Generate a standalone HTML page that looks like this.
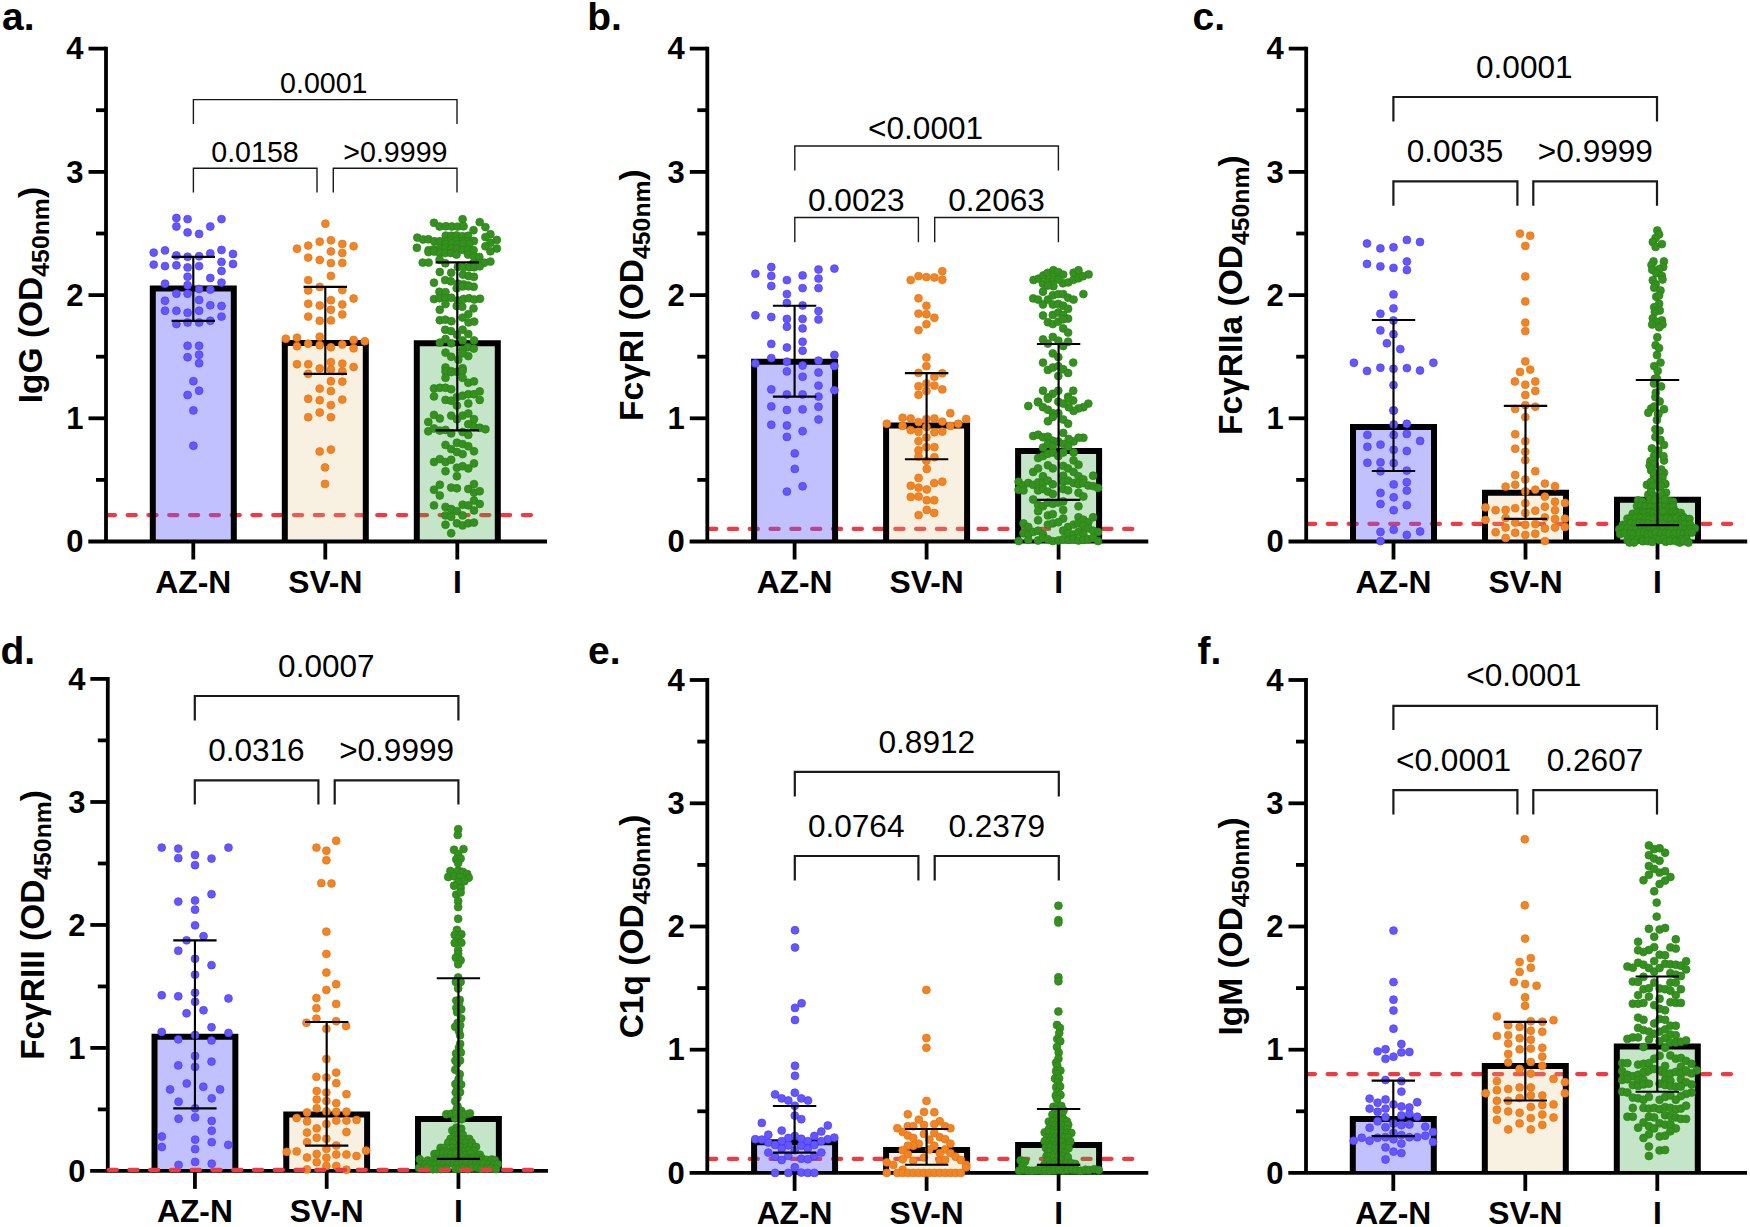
<!DOCTYPE html>
<html><head><meta charset="utf-8"><title>Figure</title>
<style>
html,body{margin:0;padding:0;background:#fff;}
svg{display:block;}
text{font-family:"Liberation Sans",Arial,Helvetica,sans-serif;fill:#000;}
.tk{font-size:31px;font-weight:bold;}
.xl{font-size:31.8px;font-weight:bold;}
.yt{font-size:33.5px;font-weight:bold;}
.sb{font-size:24.8px;}
.pl{font-size:39px;font-weight:bold;}
.pv{fill:#000;}
</style></head><body>
<svg width="1750" height="1227" viewBox="0 0 1750 1227">
<rect width="1750" height="1227" fill="#fff"/>
<g transform="translate(0,0)">
<path d="M106.8,515.05H543.2" stroke="#F03A42" stroke-width="4.2" stroke-dasharray="8.2 12.6" stroke-linecap="round" fill="none"/>
<rect x="152.8" y="288.5" width="81" height="253.0" fill="#615EFF" fill-opacity="0.385" stroke="none"/>
<path d="M152.8,541.5V288.5H233.8V541.5" fill="none" stroke="#000" stroke-width="6.0" stroke-linejoin="miter"/>
<rect x="284.8" y="343.0" width="81" height="198.5" fill="#E1C382" fill-opacity="0.24" stroke="none"/>
<path d="M284.8,541.5V343.0H365.8V541.5" fill="none" stroke="#000" stroke-width="6.0" stroke-linejoin="miter"/>
<rect x="416.8" y="343.3" width="81" height="198.2" fill="#3CAA46" fill-opacity="0.3" stroke="none"/>
<path d="M416.8,541.5V343.3H497.8V541.5" fill="none" stroke="#000" stroke-width="6.0" stroke-linejoin="miter"/>
<path d="M106.0,46.7V541.5" stroke="#000" stroke-width="3.8" fill="none"/>
<path d="M88.3,541.5H547" stroke="#000" stroke-width="3.8" fill="none"/>
<text x="83.5" y="552.3" text-anchor="end" class="tk">0</text>
<path d="M96,479.9H106.0" stroke="#000" stroke-width="3.8"/>
<path d="M88.5,418.3H106.0" stroke="#000" stroke-width="3.8"/>
<text x="83.5" y="429.1" text-anchor="end" class="tk">1</text>
<path d="M96,356.7H106.0" stroke="#000" stroke-width="3.8"/>
<path d="M88.5,295.1H106.0" stroke="#000" stroke-width="3.8"/>
<text x="83.5" y="305.9" text-anchor="end" class="tk">2</text>
<path d="M96,233.5H106.0" stroke="#000" stroke-width="3.8"/>
<path d="M88.5,171.9H106.0" stroke="#000" stroke-width="3.8"/>
<text x="83.5" y="182.7" text-anchor="end" class="tk">3</text>
<path d="M96,110.2H106.0" stroke="#000" stroke-width="3.8"/>
<path d="M88.5,48.6H106.0" stroke="#000" stroke-width="3.8"/>
<text x="83.5" y="59.4" text-anchor="end" class="tk">4</text>
<path d="M193.3,541.5V559.5" stroke="#000" stroke-width="3.8"/>
<text x="193.3" y="592.5" text-anchor="middle" class="xl">AZ-N</text>
<path d="M325.3,541.5V559.5" stroke="#000" stroke-width="3.8"/>
<text x="325.3" y="592.5" text-anchor="middle" class="xl">SV-N</text>
<path d="M457.3,541.5V559.5" stroke="#000" stroke-width="3.8"/>
<text x="457.3" y="592.5" text-anchor="middle" class="xl">I</text>
<g fill="#6457FF" stroke="#4B3AFF" stroke-width="0.7"><circle cx="176.4" cy="218.0" r="3.95"/><circle cx="187.6" cy="219.1" r="3.95"/><circle cx="221.5" cy="219.1" r="3.95"/><circle cx="176.4" cy="226.5" r="3.95"/><circle cx="210.3" cy="226.5" r="3.95"/><circle cx="187.6" cy="232.4" r="3.95"/><circle cx="199.1" cy="233.9" r="3.95"/><circle cx="153.7" cy="252.6" r="3.95"/><circle cx="165.0" cy="250.4" r="3.95"/><circle cx="176.4" cy="255.5" r="3.95"/><circle cx="187.6" cy="256.8" r="3.95"/><circle cx="199.1" cy="256.2" r="3.95"/><circle cx="210.3" cy="253.4" r="3.95"/><circle cx="221.5" cy="250.0" r="3.95"/><circle cx="233.0" cy="254.0" r="3.95"/><circle cx="153.7" cy="264.6" r="3.95"/><circle cx="165.0" cy="266.1" r="3.95"/><circle cx="176.4" cy="265.3" r="3.95"/><circle cx="187.6" cy="267.4" r="3.95"/><circle cx="199.1" cy="266.1" r="3.95"/><circle cx="221.5" cy="261.9" r="3.95"/><circle cx="233.0" cy="264.0" r="3.95"/><circle cx="221.5" cy="271.0" r="3.95"/><circle cx="187.6" cy="276.7" r="3.95"/><circle cx="210.3" cy="278.0" r="3.95"/><circle cx="165.0" cy="283.7" r="3.95"/><circle cx="187.6" cy="285.2" r="3.95"/><circle cx="221.5" cy="282.6" r="3.95"/><circle cx="199.1" cy="289.0" r="3.95"/><circle cx="210.3" cy="289.6" r="3.95"/><circle cx="176.4" cy="293.7" r="3.95"/><circle cx="187.6" cy="293.7" r="3.95"/><circle cx="165.0" cy="300.7" r="3.95"/><circle cx="199.1" cy="300.0" r="3.95"/><circle cx="210.3" cy="305.3" r="3.95"/><circle cx="221.5" cy="306.0" r="3.95"/><circle cx="165.0" cy="310.8" r="3.95"/><circle cx="176.4" cy="310.8" r="3.95"/><circle cx="187.6" cy="312.7" r="3.95"/><circle cx="199.1" cy="310.8" r="3.95"/><circle cx="221.5" cy="316.6" r="3.95"/><circle cx="176.4" cy="324.0" r="3.95"/><circle cx="187.6" cy="322.5" r="3.95"/><circle cx="199.1" cy="322.5" r="3.95"/><circle cx="210.3" cy="320.8" r="3.95"/><circle cx="187.6" cy="345.8" r="3.95"/><circle cx="199.1" cy="345.8" r="3.95"/><circle cx="199.1" cy="354.7" r="3.95"/><circle cx="187.6" cy="357.2" r="3.95"/><circle cx="199.1" cy="363.2" r="3.95"/><circle cx="193.4" cy="381.2" r="3.95"/><circle cx="199.1" cy="390.7" r="3.95"/><circle cx="187.6" cy="395.0" r="3.95"/><circle cx="193.4" cy="410.4" r="3.95"/><circle cx="193.4" cy="445.8" r="3.95"/></g>
<g fill="#F18425" stroke="#EA720E" stroke-width="0.7"><circle cx="325.4" cy="223.7" r="3.95"/><circle cx="319.7" cy="241.7" r="3.95"/><circle cx="330.9" cy="240.3" r="3.95"/><circle cx="308.2" cy="245.6" r="3.95"/><circle cx="342.3" cy="243.9" r="3.95"/><circle cx="297.0" cy="248.7" r="3.95"/><circle cx="353.6" cy="246.2" r="3.95"/><circle cx="330.9" cy="251.5" r="3.95"/><circle cx="342.3" cy="253.0" r="3.95"/><circle cx="308.2" cy="257.6" r="3.95"/><circle cx="319.7" cy="260.0" r="3.95"/><circle cx="330.9" cy="263.1" r="3.95"/><circle cx="342.3" cy="262.9" r="3.95"/><circle cx="330.9" cy="275.9" r="3.95"/><circle cx="308.2" cy="280.1" r="3.95"/><circle cx="319.7" cy="286.9" r="3.95"/><circle cx="308.2" cy="290.5" r="3.95"/><circle cx="342.3" cy="290.1" r="3.95"/><circle cx="353.6" cy="298.5" r="3.95"/><circle cx="330.9" cy="300.2" r="3.95"/><circle cx="308.2" cy="303.8" r="3.95"/><circle cx="319.7" cy="305.5" r="3.95"/><circle cx="342.3" cy="304.5" r="3.95"/><circle cx="330.9" cy="309.8" r="3.95"/><circle cx="342.3" cy="314.4" r="3.95"/><circle cx="308.2" cy="316.6" r="3.95"/><circle cx="319.7" cy="320.8" r="3.95"/><circle cx="330.9" cy="320.4" r="3.95"/><circle cx="319.7" cy="336.7" r="3.95"/><circle cx="285.8" cy="338.8" r="3.95"/><circle cx="297.0" cy="337.7" r="3.95"/><circle cx="353.6" cy="339.9" r="3.95"/><circle cx="364.8" cy="341.3" r="3.95"/><circle cx="297.0" cy="346.2" r="3.95"/><circle cx="308.2" cy="343.7" r="3.95"/><circle cx="319.7" cy="345.2" r="3.95"/><circle cx="330.9" cy="347.3" r="3.95"/><circle cx="342.3" cy="344.5" r="3.95"/><circle cx="353.6" cy="348.3" r="3.95"/><circle cx="330.9" cy="362.1" r="3.95"/><circle cx="297.0" cy="364.2" r="3.95"/><circle cx="308.2" cy="364.2" r="3.95"/><circle cx="342.3" cy="363.6" r="3.95"/><circle cx="353.6" cy="367.0" r="3.95"/><circle cx="319.7" cy="368.5" r="3.95"/><circle cx="330.9" cy="369.5" r="3.95"/><circle cx="342.3" cy="371.2" r="3.95"/><circle cx="308.2" cy="373.8" r="3.95"/><circle cx="330.9" cy="381.2" r="3.95"/><circle cx="342.3" cy="381.6" r="3.95"/><circle cx="319.7" cy="388.6" r="3.95"/><circle cx="330.9" cy="391.1" r="3.95"/><circle cx="308.2" cy="398.8" r="3.95"/><circle cx="319.7" cy="400.3" r="3.95"/><circle cx="342.3" cy="399.6" r="3.95"/><circle cx="330.9" cy="405.1" r="3.95"/><circle cx="319.7" cy="412.5" r="3.95"/><circle cx="308.2" cy="417.2" r="3.95"/><circle cx="330.9" cy="417.2" r="3.95"/><circle cx="319.7" cy="451.5" r="3.95"/><circle cx="330.9" cy="449.6" r="3.95"/><circle cx="325.0" cy="467.4" r="3.95"/><circle cx="325.0" cy="483.9" r="3.95"/></g>
<g fill="#35911F" stroke="#2A8216" stroke-width="0.7"><circle cx="462.6" cy="219.2" r="3.95"/><circle cx="434.0" cy="222.8" r="3.95"/><circle cx="439.6" cy="226.5" r="3.95"/><circle cx="445.9" cy="226.2" r="3.95"/><circle cx="451.9" cy="226.5" r="3.95"/><circle cx="457.6" cy="226.6" r="3.95"/><circle cx="463.6" cy="226.3" r="3.95"/><circle cx="479.7" cy="222.1" r="3.95"/><circle cx="485.4" cy="227.1" r="3.95"/><circle cx="473.5" cy="230.2" r="3.95"/><circle cx="490.4" cy="234.2" r="3.95"/><circle cx="485.4" cy="237.1" r="3.95"/><circle cx="496.8" cy="239.9" r="3.95"/><circle cx="490.4" cy="242.8" r="3.95"/><circle cx="485.4" cy="246.3" r="3.95"/><circle cx="496.8" cy="248.5" r="3.95"/><circle cx="490.4" cy="251.3" r="3.95"/><circle cx="417.3" cy="237.6" r="3.95"/><circle cx="423.1" cy="239.5" r="3.95"/><circle cx="428.4" cy="239.3" r="3.95"/><circle cx="434.3" cy="241.3" r="3.95"/><circle cx="439.8" cy="241.2" r="3.95"/><circle cx="445.8" cy="235.6" r="3.95"/><circle cx="451.4" cy="235.8" r="3.95"/><circle cx="456.6" cy="235.4" r="3.95"/><circle cx="462.4" cy="236.3" r="3.95"/><circle cx="468.0" cy="235.8" r="3.95"/><circle cx="445.6" cy="241.1" r="3.95"/><circle cx="451.2" cy="240.6" r="3.95"/><circle cx="456.5" cy="240.9" r="3.95"/><circle cx="462.7" cy="241.2" r="3.95"/><circle cx="468.1" cy="241.5" r="3.95"/><circle cx="473.9" cy="241.0" r="3.95"/><circle cx="416.9" cy="247.8" r="3.95"/><circle cx="428.6" cy="250.2" r="3.95"/><circle cx="433.8" cy="249.3" r="3.95"/><circle cx="439.8" cy="249.1" r="3.95"/><circle cx="445.6" cy="243.9" r="3.95"/><circle cx="451.9" cy="243.4" r="3.95"/><circle cx="457.5" cy="244.3" r="3.95"/><circle cx="463.4" cy="243.6" r="3.95"/><circle cx="469.3" cy="243.8" r="3.95"/><circle cx="440.0" cy="247.9" r="3.95"/><circle cx="445.8" cy="247.8" r="3.95"/><circle cx="451.3" cy="248.6" r="3.95"/><circle cx="456.9" cy="248.8" r="3.95"/><circle cx="462.8" cy="249.9" r="3.95"/><circle cx="468.2" cy="249.8" r="3.95"/><circle cx="473.6" cy="250.2" r="3.95"/><circle cx="428.5" cy="252.1" r="3.95"/><circle cx="434.3" cy="251.6" r="3.95"/><circle cx="439.7" cy="252.7" r="3.95"/><circle cx="445.1" cy="253.0" r="3.95"/><circle cx="450.9" cy="253.0" r="3.95"/><circle cx="456.5" cy="254.6" r="3.95"/><circle cx="468.0" cy="254.5" r="3.95"/><circle cx="473.9" cy="256.6" r="3.95"/><circle cx="479.3" cy="256.9" r="3.95"/><circle cx="422.7" cy="262.6" r="3.95"/><circle cx="428.6" cy="262.6" r="3.95"/><circle cx="439.6" cy="259.7" r="3.95"/><circle cx="445.3" cy="263.3" r="3.95"/><circle cx="472.9" cy="263.6" r="3.95"/><circle cx="478.2" cy="263.0" r="3.95"/><circle cx="484.2" cy="262.7" r="3.95"/><circle cx="490.4" cy="261.6" r="3.95"/><circle cx="457.9" cy="266.9" r="3.95"/><circle cx="463.5" cy="267.1" r="3.95"/><circle cx="469.3" cy="267.3" r="3.95"/><circle cx="474.3" cy="267.2" r="3.95"/><circle cx="479.8" cy="266.3" r="3.95"/><circle cx="439.8" cy="272.0" r="3.95"/><circle cx="451.2" cy="272.7" r="3.95"/><circle cx="462.9" cy="274.6" r="3.95"/><circle cx="468.6" cy="276.0" r="3.95"/><circle cx="473.9" cy="276.8" r="3.95"/><circle cx="445.1" cy="280.1" r="3.95"/><circle cx="450.8" cy="281.3" r="3.95"/><circle cx="458.1" cy="283.6" r="3.95"/><circle cx="463.4" cy="284.4" r="3.95"/><circle cx="468.3" cy="285.5" r="3.95"/><circle cx="473.7" cy="286.8" r="3.95"/><circle cx="434.0" cy="282.7" r="3.95"/><circle cx="439.4" cy="291.8" r="3.95"/><circle cx="445.5" cy="292.1" r="3.95"/><circle cx="456.7" cy="288.2" r="3.95"/><circle cx="462.5" cy="286.4" r="3.95"/><circle cx="468.5" cy="286.3" r="3.95"/><circle cx="434.0" cy="299.1" r="3.95"/><circle cx="439.4" cy="298.2" r="3.95"/><circle cx="445.3" cy="298.2" r="3.95"/><circle cx="451.4" cy="297.8" r="3.95"/><circle cx="445.5" cy="304.1" r="3.95"/><circle cx="457.9" cy="300.5" r="3.95"/><circle cx="463.7" cy="298.9" r="3.95"/><circle cx="469.0" cy="298.3" r="3.95"/><circle cx="474.3" cy="299.5" r="3.95"/><circle cx="480.0" cy="298.7" r="3.95"/><circle cx="456.7" cy="306.0" r="3.95"/><circle cx="462.3" cy="306.7" r="3.95"/><circle cx="439.8" cy="309.8" r="3.95"/><circle cx="473.5" cy="308.4" r="3.95"/><circle cx="468.3" cy="314.1" r="3.95"/><circle cx="439.8" cy="320.2" r="3.95"/><circle cx="445.3" cy="319.7" r="3.95"/><circle cx="451.4" cy="321.2" r="3.95"/><circle cx="462.6" cy="317.6" r="3.95"/><circle cx="468.5" cy="322.4" r="3.95"/><circle cx="474.2" cy="321.6" r="3.95"/><circle cx="445.2" cy="329.8" r="3.95"/><circle cx="451.0" cy="331.1" r="3.95"/><circle cx="462.6" cy="329.7" r="3.95"/><circle cx="468.3" cy="334.0" r="3.95"/><circle cx="456.9" cy="334.7" r="3.95"/><circle cx="445.5" cy="339.0" r="3.95"/><circle cx="439.8" cy="342.6" r="3.95"/><circle cx="451.2" cy="343.3" r="3.95"/><circle cx="462.6" cy="340.4" r="3.95"/><circle cx="474.0" cy="340.4" r="3.95"/><circle cx="467.9" cy="347.2" r="3.95"/><circle cx="473.8" cy="348.6" r="3.95"/><circle cx="462.6" cy="349.7" r="3.95"/><circle cx="445.5" cy="352.6" r="3.95"/><circle cx="451.2" cy="356.8" r="3.95"/><circle cx="458.3" cy="359.7" r="3.95"/><circle cx="468.3" cy="356.1" r="3.95"/><circle cx="462.6" cy="353.3" r="3.95"/><circle cx="445.5" cy="367.5" r="3.95"/><circle cx="451.2" cy="371.1" r="3.95"/><circle cx="456.9" cy="371.8" r="3.95"/><circle cx="462.6" cy="368.2" r="3.95"/><circle cx="445.5" cy="371.4" r="3.95"/><circle cx="451.2" cy="372.1" r="3.95"/><circle cx="462.6" cy="370.7" r="3.95"/><circle cx="445.5" cy="377.8" r="3.95"/><circle cx="462.6" cy="377.8" r="3.95"/><circle cx="468.3" cy="382.8" r="3.95"/><circle cx="474.0" cy="381.4" r="3.95"/><circle cx="434.0" cy="388.5" r="3.95"/><circle cx="439.8" cy="387.8" r="3.95"/><circle cx="445.5" cy="387.8" r="3.95"/><circle cx="451.2" cy="389.2" r="3.95"/><circle cx="434.0" cy="396.4" r="3.95"/><circle cx="445.5" cy="399.9" r="3.95"/><circle cx="451.2" cy="400.7" r="3.95"/><circle cx="456.9" cy="397.1" r="3.95"/><circle cx="462.6" cy="395.7" r="3.95"/><circle cx="468.3" cy="394.2" r="3.95"/><circle cx="474.0" cy="394.2" r="3.95"/><circle cx="479.7" cy="391.4" r="3.95"/><circle cx="479.7" cy="399.9" r="3.95"/><circle cx="468.3" cy="403.5" r="3.95"/><circle cx="456.9" cy="405.6" r="3.95"/><circle cx="434.0" cy="414.9" r="3.95"/><circle cx="439.8" cy="418.5" r="3.95"/><circle cx="428.3" cy="422.0" r="3.95"/><circle cx="451.2" cy="415.6" r="3.95"/><circle cx="456.9" cy="419.2" r="3.95"/><circle cx="462.6" cy="415.6" r="3.95"/><circle cx="468.3" cy="413.5" r="3.95"/><circle cx="474.0" cy="419.2" r="3.95"/><circle cx="468.3" cy="424.2" r="3.95"/><circle cx="428.3" cy="431.3" r="3.95"/><circle cx="434.0" cy="428.5" r="3.95"/><circle cx="439.8" cy="430.6" r="3.95"/><circle cx="445.5" cy="429.9" r="3.95"/><circle cx="451.2" cy="433.4" r="3.95"/><circle cx="462.6" cy="432.0" r="3.95"/><circle cx="468.3" cy="434.9" r="3.95"/><circle cx="474.0" cy="427.0" r="3.95"/><circle cx="479.7" cy="427.7" r="3.95"/><circle cx="485.4" cy="429.2" r="3.95"/><circle cx="445.5" cy="444.9" r="3.95"/><circle cx="451.2" cy="449.1" r="3.95"/><circle cx="456.9" cy="452.0" r="3.95"/><circle cx="462.6" cy="454.1" r="3.95"/><circle cx="456.9" cy="442.7" r="3.95"/><circle cx="462.6" cy="444.1" r="3.95"/><circle cx="468.3" cy="446.3" r="3.95"/><circle cx="474.0" cy="451.3" r="3.95"/><circle cx="434.0" cy="462.0" r="3.95"/><circle cx="439.8" cy="459.1" r="3.95"/><circle cx="445.5" cy="462.0" r="3.95"/><circle cx="451.2" cy="459.8" r="3.95"/><circle cx="456.9" cy="467.7" r="3.95"/><circle cx="462.6" cy="466.2" r="3.95"/><circle cx="468.3" cy="468.4" r="3.95"/><circle cx="474.0" cy="463.4" r="3.95"/><circle cx="445.5" cy="471.2" r="3.95"/><circle cx="456.9" cy="476.2" r="3.95"/><circle cx="439.8" cy="484.8" r="3.95"/><circle cx="434.0" cy="489.8" r="3.95"/><circle cx="439.8" cy="495.5" r="3.95"/><circle cx="434.0" cy="505.4" r="3.95"/><circle cx="451.2" cy="487.6" r="3.95"/><circle cx="456.9" cy="488.3" r="3.95"/><circle cx="474.0" cy="484.1" r="3.95"/><circle cx="468.3" cy="489.0" r="3.95"/><circle cx="474.0" cy="492.6" r="3.95"/><circle cx="479.7" cy="491.2" r="3.95"/><circle cx="474.0" cy="500.5" r="3.95"/><circle cx="479.7" cy="504.0" r="3.95"/><circle cx="445.5" cy="506.9" r="3.95"/><circle cx="451.2" cy="509.0" r="3.95"/><circle cx="456.9" cy="511.1" r="3.95"/><circle cx="462.6" cy="504.7" r="3.95"/><circle cx="468.3" cy="505.4" r="3.95"/><circle cx="474.0" cy="510.4" r="3.95"/><circle cx="445.5" cy="515.4" r="3.95"/><circle cx="451.2" cy="516.8" r="3.95"/><circle cx="462.6" cy="515.4" r="3.95"/><circle cx="445.5" cy="524.7" r="3.95"/><circle cx="456.9" cy="523.3" r="3.95"/><circle cx="462.6" cy="525.4" r="3.95"/><circle cx="468.3" cy="523.3" r="3.95"/><circle cx="474.0" cy="522.6" r="3.95"/><circle cx="451.2" cy="533.2" r="3.95"/></g>
<path d="M171.6,256.8H215.0M171.6,320.8H215.0M193.3,256.8V320.8" stroke="#000" stroke-width="2.15" fill="none"/>
<path d="M303.6,286.9H347.0M303.6,373.8H347.0M325.3,286.9V373.8" stroke="#000" stroke-width="2.15" fill="none"/>
<path d="M435.6,262.4H479.0M435.6,430.4H479.0M457.3,262.4V430.4" stroke="#000" stroke-width="2.15" fill="none"/>
<path d="M193.4,124.0V99.6H457.0V124.0" stroke="#1a1a1a" stroke-width="1.4" fill="none"/>
<text x="323.8" y="93.0" text-anchor="middle" font-size="28.6" class="pv">0.0001</text>
<path d="M193.4,192.60000000000002V168.3H317.0V192.60000000000002" stroke="#1a1a1a" stroke-width="1.4" fill="none"/>
<text x="255.0" y="162.0" text-anchor="middle" font-size="28.6" class="pv">0.0158</text>
<path d="M333.3,192.60000000000002V168.3H457.0V192.60000000000002" stroke="#1a1a1a" stroke-width="1.4" fill="none"/>
<text x="395.4" y="162.0" text-anchor="middle" font-size="28.6" class="pv">&gt;0.9999</text>
<text transform="translate(42.0,295.1) rotate(-90)" text-anchor="middle" class="yt">IgG (OD<tspan class="sb" dy="7">450nm</tspan><tspan dy="-7">)</tspan></text>
</g>
<text x="2.0" y="29.8" class="pl">a.</text>
<g transform="translate(601.3,0)">
<path d="M106.8,528.9H543.2" stroke="#F03A42" stroke-width="4.2" stroke-dasharray="8.2 12.6" stroke-linecap="round" fill="none"/>
<rect x="152.8" y="361.7" width="81" height="179.8" fill="#615EFF" fill-opacity="0.385" stroke="none"/>
<path d="M152.8,541.5V361.7H233.8V541.5" fill="none" stroke="#000" stroke-width="6.0" stroke-linejoin="miter"/>
<rect x="284.8" y="425.6" width="81" height="115.9" fill="#E1C382" fill-opacity="0.24" stroke="none"/>
<path d="M284.8,541.5V425.6H365.8V541.5" fill="none" stroke="#000" stroke-width="6.0" stroke-linejoin="miter"/>
<rect x="416.8" y="451.1" width="81" height="90.4" fill="#3CAA46" fill-opacity="0.3" stroke="none"/>
<path d="M416.8,541.5V451.1H497.8V541.5" fill="none" stroke="#000" stroke-width="6.0" stroke-linejoin="miter"/>
<path d="M106.0,46.7V541.5" stroke="#000" stroke-width="3.8" fill="none"/>
<path d="M88.3,541.5H547" stroke="#000" stroke-width="3.8" fill="none"/>
<text x="83.5" y="552.3" text-anchor="end" class="tk">0</text>
<path d="M96,479.9H106.0" stroke="#000" stroke-width="3.8"/>
<path d="M88.5,418.3H106.0" stroke="#000" stroke-width="3.8"/>
<text x="83.5" y="429.1" text-anchor="end" class="tk">1</text>
<path d="M96,356.7H106.0" stroke="#000" stroke-width="3.8"/>
<path d="M88.5,295.1H106.0" stroke="#000" stroke-width="3.8"/>
<text x="83.5" y="305.9" text-anchor="end" class="tk">2</text>
<path d="M96,233.5H106.0" stroke="#000" stroke-width="3.8"/>
<path d="M88.5,171.9H106.0" stroke="#000" stroke-width="3.8"/>
<text x="83.5" y="182.7" text-anchor="end" class="tk">3</text>
<path d="M96,110.2H106.0" stroke="#000" stroke-width="3.8"/>
<path d="M88.5,48.6H106.0" stroke="#000" stroke-width="3.8"/>
<text x="83.5" y="59.4" text-anchor="end" class="tk">4</text>
<path d="M193.3,541.5V559.5" stroke="#000" stroke-width="3.8"/>
<text x="193.3" y="592.5" text-anchor="middle" class="xl">AZ-N</text>
<path d="M325.3,541.5V559.5" stroke="#000" stroke-width="3.8"/>
<text x="325.3" y="592.5" text-anchor="middle" class="xl">SV-N</text>
<path d="M457.3,541.5V559.5" stroke="#000" stroke-width="3.8"/>
<text x="457.3" y="592.5" text-anchor="middle" class="xl">I</text>
<g fill="#6457FF" stroke="#4B3AFF" stroke-width="0.7"><circle cx="170.0" cy="267.0" r="3.95"/><circle cx="233.1" cy="268.6" r="3.95"/><circle cx="217.2" cy="269.5" r="3.95"/><circle cx="154.1" cy="273.7" r="3.95"/><circle cx="201.3" cy="275.4" r="3.95"/><circle cx="170.0" cy="275.9" r="3.95"/><circle cx="217.2" cy="278.6" r="3.95"/><circle cx="185.6" cy="280.1" r="3.95"/><circle cx="170.0" cy="286.0" r="3.95"/><circle cx="201.3" cy="288.1" r="3.95"/><circle cx="217.2" cy="288.1" r="3.95"/><circle cx="185.6" cy="294.1" r="3.95"/><circle cx="185.6" cy="303.0" r="3.95"/><circle cx="201.3" cy="305.5" r="3.95"/><circle cx="217.2" cy="311.0" r="3.95"/><circle cx="154.1" cy="315.3" r="3.95"/><circle cx="170.0" cy="317.0" r="3.95"/><circle cx="185.6" cy="318.9" r="3.95"/><circle cx="201.3" cy="318.9" r="3.95"/><circle cx="217.2" cy="319.5" r="3.95"/><circle cx="185.6" cy="326.7" r="3.95"/><circle cx="201.3" cy="328.4" r="3.95"/><circle cx="201.3" cy="341.8" r="3.95"/><circle cx="170.0" cy="343.9" r="3.95"/><circle cx="185.6" cy="347.5" r="3.95"/><circle cx="201.3" cy="350.7" r="3.95"/><circle cx="233.1" cy="354.9" r="3.95"/><circle cx="170.0" cy="358.1" r="3.95"/><circle cx="217.2" cy="360.6" r="3.95"/><circle cx="185.6" cy="361.7" r="3.95"/><circle cx="154.1" cy="363.4" r="3.95"/><circle cx="201.3" cy="365.5" r="3.95"/><circle cx="233.1" cy="366.1" r="3.95"/><circle cx="185.6" cy="371.4" r="3.95"/><circle cx="217.2" cy="372.5" r="3.95"/><circle cx="201.3" cy="376.7" r="3.95"/><circle cx="217.2" cy="385.6" r="3.95"/><circle cx="170.0" cy="389.4" r="3.95"/><circle cx="233.1" cy="390.3" r="3.95"/><circle cx="185.6" cy="394.5" r="3.95"/><circle cx="201.3" cy="394.5" r="3.95"/><circle cx="217.2" cy="396.6" r="3.95"/><circle cx="170.0" cy="406.4" r="3.95"/><circle cx="217.2" cy="406.8" r="3.95"/><circle cx="185.6" cy="410.0" r="3.95"/><circle cx="201.3" cy="409.4" r="3.95"/><circle cx="217.2" cy="419.5" r="3.95"/><circle cx="170.0" cy="424.8" r="3.95"/><circle cx="185.6" cy="425.5" r="3.95"/><circle cx="201.3" cy="431.2" r="3.95"/><circle cx="185.6" cy="436.9" r="3.95"/><circle cx="193.5" cy="453.4" r="3.95"/><circle cx="193.5" cy="468.9" r="3.95"/><circle cx="201.3" cy="486.3" r="3.95"/><circle cx="185.6" cy="491.6" r="3.95"/></g>
<g fill="#F18425" stroke="#EA720E" stroke-width="0.7"><circle cx="341.0" cy="271.2" r="3.95"/><circle cx="317.2" cy="276.1" r="3.95"/><circle cx="325.1" cy="277.1" r="3.95"/><circle cx="333.1" cy="277.5" r="3.95"/><circle cx="309.4" cy="280.1" r="3.95"/><circle cx="341.0" cy="279.7" r="3.95"/><circle cx="317.2" cy="298.3" r="3.95"/><circle cx="325.1" cy="305.7" r="3.95"/><circle cx="317.2" cy="313.6" r="3.95"/><circle cx="325.1" cy="314.2" r="3.95"/><circle cx="333.1" cy="317.8" r="3.95"/><circle cx="325.1" cy="324.2" r="3.95"/><circle cx="317.2" cy="330.1" r="3.95"/><circle cx="325.1" cy="357.4" r="3.95"/><circle cx="325.1" cy="366.1" r="3.95"/><circle cx="317.2" cy="372.9" r="3.95"/><circle cx="341.0" cy="373.3" r="3.95"/><circle cx="333.1" cy="376.7" r="3.95"/><circle cx="325.1" cy="383.5" r="3.95"/><circle cx="317.2" cy="386.3" r="3.95"/><circle cx="333.1" cy="385.6" r="3.95"/><circle cx="341.0" cy="389.4" r="3.95"/><circle cx="325.1" cy="390.9" r="3.95"/><circle cx="317.2" cy="394.7" r="3.95"/><circle cx="349.0" cy="413.2" r="3.95"/><circle cx="301.3" cy="417.8" r="3.95"/><circle cx="309.4" cy="418.5" r="3.95"/><circle cx="325.1" cy="419.1" r="3.95"/><circle cx="333.1" cy="418.5" r="3.95"/><circle cx="364.9" cy="418.9" r="3.95"/><circle cx="317.2" cy="422.1" r="3.95"/><circle cx="341.0" cy="421.6" r="3.95"/><circle cx="285.5" cy="423.8" r="3.95"/><circle cx="356.9" cy="423.8" r="3.95"/><circle cx="301.3" cy="425.9" r="3.95"/><circle cx="349.0" cy="425.9" r="3.95"/><circle cx="325.1" cy="426.9" r="3.95"/><circle cx="309.4" cy="430.1" r="3.95"/><circle cx="317.2" cy="431.8" r="3.95"/><circle cx="333.1" cy="432.2" r="3.95"/><circle cx="341.0" cy="431.6" r="3.95"/><circle cx="325.1" cy="437.5" r="3.95"/><circle cx="317.2" cy="441.1" r="3.95"/><circle cx="333.1" cy="447.1" r="3.95"/><circle cx="317.2" cy="450.3" r="3.95"/><circle cx="325.1" cy="447.1" r="3.95"/><circle cx="317.2" cy="456.6" r="3.95"/><circle cx="333.1" cy="457.2" r="3.95"/><circle cx="325.1" cy="460.8" r="3.95"/><circle cx="325.5" cy="469.0" r="3.95"/><circle cx="317.3" cy="477.9" r="3.95"/><circle cx="332.9" cy="483.1" r="3.95"/><circle cx="341.0" cy="481.7" r="3.95"/><circle cx="309.5" cy="485.8" r="3.95"/><circle cx="317.3" cy="487.6" r="3.95"/><circle cx="325.5" cy="489.5" r="3.95"/><circle cx="309.5" cy="497.0" r="3.95"/><circle cx="317.3" cy="496.5" r="3.95"/><circle cx="325.5" cy="500.2" r="3.95"/><circle cx="332.9" cy="500.2" r="3.95"/><circle cx="325.5" cy="509.9" r="3.95"/><circle cx="332.9" cy="512.9" r="3.95"/><circle cx="317.3" cy="515.1" r="3.95"/></g>
<g fill="#35911F" stroke="#2A8216" stroke-width="0.7"><circle cx="432.3" cy="280.0" r="3.95"/><circle cx="437.2" cy="278.6" r="3.95"/><circle cx="442.1" cy="275.4" r="3.95"/><circle cx="446.4" cy="272.9" r="3.95"/><circle cx="452.1" cy="270.3" r="3.95"/><circle cx="457.0" cy="272.1" r="3.95"/><circle cx="461.9" cy="274.6" r="3.95"/><circle cx="461.6" cy="283.3" r="3.95"/><circle cx="467.0" cy="282.4" r="3.95"/><circle cx="472.2" cy="279.8" r="3.95"/><circle cx="477.1" cy="278.3" r="3.95"/><circle cx="481.6" cy="276.2" r="3.95"/><circle cx="487.3" cy="274.4" r="3.95"/><circle cx="472.3" cy="272.7" r="3.95"/><circle cx="477.2" cy="270.3" r="3.95"/><circle cx="441.7" cy="283.7" r="3.95"/><circle cx="446.6" cy="281.3" r="3.95"/><circle cx="452.1" cy="278.2" r="3.95"/><circle cx="452.1" cy="286.2" r="3.95"/><circle cx="446.6" cy="285.6" r="3.95"/><circle cx="457.0" cy="279.5" r="3.95"/><circle cx="441.7" cy="291.7" r="3.95"/><circle cx="482.1" cy="294.1" r="3.95"/><circle cx="431.9" cy="298.4" r="3.95"/><circle cx="436.8" cy="299.6" r="3.95"/><circle cx="441.7" cy="304.5" r="3.95"/><circle cx="446.6" cy="299.6" r="3.95"/><circle cx="451.5" cy="295.3" r="3.95"/><circle cx="457.0" cy="294.1" r="3.95"/><circle cx="461.9" cy="294.1" r="3.95"/><circle cx="466.8" cy="297.8" r="3.95"/><circle cx="472.3" cy="299.6" r="3.95"/><circle cx="451.5" cy="304.5" r="3.95"/><circle cx="457.0" cy="303.9" r="3.95"/><circle cx="461.9" cy="305.7" r="3.95"/><circle cx="466.8" cy="308.8" r="3.95"/><circle cx="441.7" cy="315.5" r="3.95"/><circle cx="451.5" cy="314.9" r="3.95"/><circle cx="457.0" cy="312.5" r="3.95"/><circle cx="461.9" cy="314.9" r="3.95"/><circle cx="466.8" cy="318.6" r="3.95"/><circle cx="446.6" cy="322.2" r="3.95"/><circle cx="451.5" cy="324.1" r="3.95"/><circle cx="457.0" cy="321.6" r="3.95"/><circle cx="461.9" cy="319.2" r="3.95"/><circle cx="461.9" cy="328.4" r="3.95"/><circle cx="466.8" cy="332.6" r="3.95"/><circle cx="441.7" cy="339.4" r="3.95"/><circle cx="446.6" cy="343.6" r="3.95"/><circle cx="451.5" cy="336.9" r="3.95"/><circle cx="457.0" cy="340.6" r="3.95"/><circle cx="461.9" cy="346.1" r="3.95"/><circle cx="466.8" cy="341.8" r="3.95"/><circle cx="451.5" cy="353.4" r="3.95"/><circle cx="457.0" cy="357.1" r="3.95"/><circle cx="441.7" cy="362.6" r="3.95"/><circle cx="471.9" cy="362.6" r="3.95"/><circle cx="446.6" cy="369.9" r="3.95"/><circle cx="451.5" cy="367.5" r="3.95"/><circle cx="457.0" cy="366.3" r="3.95"/><circle cx="461.9" cy="369.3" r="3.95"/><circle cx="466.8" cy="373.0" r="3.95"/><circle cx="457.0" cy="376.0" r="3.95"/><circle cx="441.7" cy="390.7" r="3.95"/><circle cx="457.0" cy="390.7" r="3.95"/><circle cx="471.9" cy="390.7" r="3.95"/><circle cx="451.5" cy="393.8" r="3.95"/><circle cx="446.6" cy="397.4" r="3.95"/><circle cx="466.8" cy="396.8" r="3.95"/><circle cx="471.9" cy="400.5" r="3.95"/><circle cx="436.8" cy="401.7" r="3.95"/><circle cx="457.0" cy="401.7" r="3.95"/><circle cx="427.0" cy="406.0" r="3.95"/><circle cx="446.6" cy="398.7" r="3.95"/><circle cx="436.8" cy="402.3" r="3.95"/><circle cx="441.7" cy="407.2" r="3.95"/><circle cx="446.6" cy="409.7" r="3.95"/><circle cx="451.5" cy="413.3" r="3.95"/><circle cx="446.6" cy="421.3" r="3.95"/><circle cx="487.0" cy="403.6" r="3.95"/><circle cx="482.1" cy="407.2" r="3.95"/><circle cx="477.2" cy="408.4" r="3.95"/><circle cx="472.3" cy="410.9" r="3.95"/><circle cx="467.4" cy="407.2" r="3.95"/><circle cx="461.9" cy="403.6" r="3.95"/><circle cx="467.4" cy="398.7" r="3.95"/><circle cx="457.0" cy="413.3" r="3.95"/><circle cx="461.9" cy="419.5" r="3.95"/><circle cx="466.8" cy="423.7" r="3.95"/><circle cx="451.5" cy="417.0" r="3.95"/><circle cx="431.9" cy="436.0" r="3.95"/><circle cx="436.8" cy="434.7" r="3.95"/><circle cx="441.7" cy="437.2" r="3.95"/><circle cx="446.6" cy="436.6" r="3.95"/><circle cx="451.5" cy="440.8" r="3.95"/><circle cx="482.1" cy="437.8" r="3.95"/><circle cx="477.2" cy="437.8" r="3.95"/><circle cx="472.3" cy="441.5" r="3.95"/><circle cx="467.4" cy="439.0" r="3.95"/><circle cx="461.9" cy="432.9" r="3.95"/><circle cx="441.7" cy="447.6" r="3.95"/><circle cx="446.6" cy="443.9" r="3.95"/><circle cx="451.5" cy="446.4" r="3.95"/><circle cx="457.0" cy="441.5" r="3.95"/><circle cx="461.9" cy="443.9" r="3.95"/><circle cx="466.8" cy="446.4" r="3.95"/><circle cx="472.3" cy="452.5" r="3.95"/><circle cx="436.8" cy="458.0" r="3.95"/><circle cx="441.7" cy="456.1" r="3.95"/><circle cx="446.6" cy="453.7" r="3.95"/><circle cx="451.5" cy="452.5" r="3.95"/><circle cx="457.0" cy="456.1" r="3.95"/><circle cx="461.9" cy="452.5" r="3.95"/><circle cx="472.3" cy="460.4" r="3.95"/><circle cx="477.2" cy="464.7" r="3.95"/><circle cx="431.9" cy="472.0" r="3.95"/><circle cx="436.8" cy="468.4" r="3.95"/><circle cx="446.6" cy="465.3" r="3.95"/><circle cx="451.5" cy="468.4" r="3.95"/><circle cx="461.9" cy="465.9" r="3.95"/><circle cx="466.8" cy="468.4" r="3.95"/><circle cx="472.3" cy="472.0" r="3.95"/><circle cx="477.2" cy="476.3" r="3.95"/><circle cx="482.1" cy="479.4" r="3.95"/><circle cx="491.8" cy="475.7" r="3.95"/><circle cx="441.7" cy="476.3" r="3.95"/><circle cx="461.9" cy="475.7" r="3.95"/><circle cx="417.3" cy="481.8" r="3.95"/><circle cx="422.2" cy="485.5" r="3.95"/><circle cx="427.0" cy="483.0" r="3.95"/><circle cx="431.9" cy="484.9" r="3.95"/><circle cx="436.8" cy="482.4" r="3.95"/><circle cx="441.7" cy="483.0" r="3.95"/><circle cx="446.6" cy="480.6" r="3.95"/><circle cx="451.5" cy="484.3" r="3.95"/><circle cx="461.9" cy="481.8" r="3.95"/><circle cx="466.8" cy="480.6" r="3.95"/><circle cx="472.3" cy="483.0" r="3.95"/><circle cx="477.2" cy="484.3" r="3.95"/><circle cx="482.1" cy="483.0" r="3.95"/><circle cx="487.0" cy="485.5" r="3.95"/><circle cx="491.8" cy="486.1" r="3.95"/><circle cx="496.7" cy="487.9" r="3.95"/><circle cx="417.3" cy="489.8" r="3.95"/><circle cx="422.2" cy="490.4" r="3.95"/><circle cx="436.8" cy="490.4" r="3.95"/><circle cx="441.7" cy="489.1" r="3.95"/><circle cx="446.6" cy="491.6" r="3.95"/><circle cx="451.5" cy="494.0" r="3.95"/><circle cx="461.9" cy="489.1" r="3.95"/><circle cx="466.8" cy="490.4" r="3.95"/><circle cx="477.2" cy="492.8" r="3.95"/><circle cx="482.1" cy="496.5" r="3.95"/><circle cx="431.9" cy="499.5" r="3.95"/><circle cx="436.8" cy="505.0" r="3.95"/><circle cx="441.7" cy="506.3" r="3.95"/><circle cx="446.6" cy="502.6" r="3.95"/><circle cx="451.5" cy="503.8" r="3.95"/><circle cx="457.0" cy="502.6" r="3.95"/><circle cx="461.9" cy="501.4" r="3.95"/><circle cx="477.2" cy="506.3" r="3.95"/><circle cx="436.8" cy="511.2" r="3.95"/><circle cx="461.9" cy="509.9" r="3.95"/><circle cx="446.6" cy="515.4" r="3.95"/><circle cx="451.5" cy="514.2" r="3.95"/><circle cx="477.2" cy="517.3" r="3.95"/><circle cx="482.1" cy="519.7" r="3.95"/><circle cx="487.0" cy="522.2" r="3.95"/><circle cx="491.8" cy="517.3" r="3.95"/><circle cx="436.8" cy="520.3" r="3.95"/><circle cx="461.9" cy="518.5" r="3.95"/><circle cx="422.2" cy="523.4" r="3.95"/><circle cx="427.0" cy="527.0" r="3.95"/><circle cx="446.6" cy="524.6" r="3.95"/><circle cx="451.5" cy="523.4" r="3.95"/><circle cx="457.0" cy="522.2" r="3.95"/><circle cx="466.8" cy="527.0" r="3.95"/><circle cx="472.3" cy="524.6" r="3.95"/><circle cx="477.2" cy="523.4" r="3.95"/><circle cx="482.1" cy="525.8" r="3.95"/><circle cx="487.0" cy="528.3" r="3.95"/><circle cx="491.8" cy="530.7" r="3.95"/><circle cx="496.7" cy="531.9" r="3.95"/><circle cx="422.2" cy="533.2" r="3.95"/><circle cx="427.0" cy="534.4" r="3.95"/><circle cx="431.9" cy="531.9" r="3.95"/><circle cx="436.8" cy="530.7" r="3.95"/><circle cx="441.7" cy="534.4" r="3.95"/><circle cx="461.9" cy="530.7" r="3.95"/><circle cx="466.8" cy="533.2" r="3.95"/><circle cx="472.3" cy="534.4" r="3.95"/><circle cx="477.2" cy="531.9" r="3.95"/><circle cx="482.1" cy="534.4" r="3.95"/><circle cx="417.3" cy="541.1" r="3.95"/><circle cx="427.0" cy="539.9" r="3.95"/><circle cx="436.8" cy="540.5" r="3.95"/><circle cx="441.7" cy="538.0" r="3.95"/><circle cx="446.6" cy="539.3" r="3.95"/><circle cx="451.5" cy="541.1" r="3.95"/><circle cx="457.0" cy="540.5" r="3.95"/><circle cx="461.9" cy="539.3" r="3.95"/><circle cx="467.4" cy="539.9" r="3.95"/><circle cx="472.3" cy="539.3" r="3.95"/><circle cx="477.2" cy="540.5" r="3.95"/><circle cx="482.1" cy="539.9" r="3.95"/><circle cx="487.0" cy="539.3" r="3.95"/><circle cx="491.8" cy="538.0" r="3.95"/><circle cx="496.7" cy="541.1" r="3.95"/></g>
<path d="M171.6,305.7H215.0M171.6,396.6H215.0M193.3,305.7V396.6" stroke="#000" stroke-width="2.15" fill="none"/>
<path d="M303.6,373.1H347.0M303.6,459.2H347.0M325.3,373.1V459.2" stroke="#000" stroke-width="2.15" fill="none"/>
<path d="M435.6,344.0H479.0M435.6,499.9H479.0M457.3,344.0V499.9" stroke="#000" stroke-width="2.15" fill="none"/>
<path d="M193.5,170.6V146.0H457.10000000000014V170.6" stroke="#1a1a1a" stroke-width="1.4" fill="none"/>
<text x="324.30000000000007" y="139.0" text-anchor="middle" font-size="31.6" class="pv">&lt;0.0001</text>
<path d="M193.5,242.3V217.5H317.1V242.3" stroke="#1a1a1a" stroke-width="1.4" fill="none"/>
<text x="255.05000000000007" y="211.0" text-anchor="middle" font-size="31.6" class="pv">0.0023</text>
<path d="M333.4000000000001,242.3V217.5H457.10000000000014V242.3" stroke="#1a1a1a" stroke-width="1.4" fill="none"/>
<text x="395.30000000000007" y="211.0" text-anchor="middle" font-size="31.6" class="pv">0.2063</text>
<text transform="translate(42.0,295.1) rotate(-90)" text-anchor="middle" class="yt">FcγRI (OD<tspan class="sb" dy="7">450nm</tspan><tspan dy="-7">)</tspan></text>
</g>
<text x="587.3" y="29.6" class="pl">b.</text>
<g transform="translate(1200.2,0)">
<path d="M106.8,523.8H543.2" stroke="#F03A42" stroke-width="4.2" stroke-dasharray="8.2 12.6" stroke-linecap="round" fill="none"/>
<rect x="152.8" y="427.1" width="81" height="114.4" fill="#615EFF" fill-opacity="0.385" stroke="none"/>
<path d="M152.8,541.5V427.1H233.8V541.5" fill="none" stroke="#000" stroke-width="6.0" stroke-linejoin="miter"/>
<rect x="284.8" y="492.7" width="81" height="48.8" fill="#E1C382" fill-opacity="0.24" stroke="none"/>
<path d="M284.8,541.5V492.7H365.8V541.5" fill="none" stroke="#000" stroke-width="6.0" stroke-linejoin="miter"/>
<rect x="416.8" y="499.7" width="81" height="41.8" fill="#3CAA46" fill-opacity="0.3" stroke="none"/>
<path d="M416.8,541.5V499.7H497.8V541.5" fill="none" stroke="#000" stroke-width="6.0" stroke-linejoin="miter"/>
<path d="M106.0,46.7V541.5" stroke="#000" stroke-width="3.8" fill="none"/>
<path d="M88.3,541.5H547" stroke="#000" stroke-width="3.8" fill="none"/>
<text x="83.5" y="552.3" text-anchor="end" class="tk">0</text>
<path d="M96,479.9H106.0" stroke="#000" stroke-width="3.8"/>
<path d="M88.5,418.3H106.0" stroke="#000" stroke-width="3.8"/>
<text x="83.5" y="429.1" text-anchor="end" class="tk">1</text>
<path d="M96,356.7H106.0" stroke="#000" stroke-width="3.8"/>
<path d="M88.5,295.1H106.0" stroke="#000" stroke-width="3.8"/>
<text x="83.5" y="305.9" text-anchor="end" class="tk">2</text>
<path d="M96,233.5H106.0" stroke="#000" stroke-width="3.8"/>
<path d="M88.5,171.9H106.0" stroke="#000" stroke-width="3.8"/>
<text x="83.5" y="182.7" text-anchor="end" class="tk">3</text>
<path d="M96,110.2H106.0" stroke="#000" stroke-width="3.8"/>
<path d="M88.5,48.6H106.0" stroke="#000" stroke-width="3.8"/>
<text x="83.5" y="59.4" text-anchor="end" class="tk">4</text>
<path d="M193.3,541.5V559.5" stroke="#000" stroke-width="3.8"/>
<text x="193.3" y="592.5" text-anchor="middle" class="xl">AZ-N</text>
<path d="M325.3,541.5V559.5" stroke="#000" stroke-width="3.8"/>
<text x="325.3" y="592.5" text-anchor="middle" class="xl">SV-N</text>
<path d="M457.3,541.5V559.5" stroke="#000" stroke-width="3.8"/>
<text x="457.3" y="592.5" text-anchor="middle" class="xl">I</text>
<g fill="#6457FF" stroke="#4B3AFF" stroke-width="0.7"><circle cx="166.8" cy="243.5" r="3.95"/><circle cx="180.2" cy="248.4" r="3.95"/><circle cx="193.3" cy="247.3" r="3.95"/><circle cx="206.7" cy="239.9" r="3.95"/><circle cx="219.8" cy="242.0" r="3.95"/><circle cx="166.8" cy="263.9" r="3.95"/><circle cx="180.2" cy="266.4" r="3.95"/><circle cx="193.3" cy="267.9" r="3.95"/><circle cx="206.7" cy="261.5" r="3.95"/><circle cx="206.7" cy="270.0" r="3.95"/><circle cx="193.3" cy="294.4" r="3.95"/><circle cx="193.3" cy="308.4" r="3.95"/><circle cx="180.2" cy="313.7" r="3.95"/><circle cx="193.3" cy="320.5" r="3.95"/><circle cx="180.2" cy="330.4" r="3.95"/><circle cx="193.3" cy="334.2" r="3.95"/><circle cx="186.7" cy="343.3" r="3.95"/><circle cx="200.1" cy="349.1" r="3.95"/><circle cx="153.7" cy="362.8" r="3.95"/><circle cx="233.2" cy="362.8" r="3.95"/><circle cx="166.8" cy="370.9" r="3.95"/><circle cx="180.2" cy="367.7" r="3.95"/><circle cx="193.3" cy="368.8" r="3.95"/><circle cx="206.7" cy="368.1" r="3.95"/><circle cx="219.8" cy="370.5" r="3.95"/><circle cx="193.3" cy="385.1" r="3.95"/><circle cx="193.3" cy="410.5" r="3.95"/><circle cx="193.5" cy="410.4" r="3.95"/><circle cx="193.5" cy="424.5" r="3.95"/><circle cx="206.6" cy="423.8" r="3.95"/><circle cx="167.2" cy="434.9" r="3.95"/><circle cx="193.5" cy="434.9" r="3.95"/><circle cx="206.6" cy="433.9" r="3.95"/><circle cx="219.9" cy="440.9" r="3.95"/><circle cx="167.2" cy="446.8" r="3.95"/><circle cx="180.3" cy="444.6" r="3.95"/><circle cx="193.5" cy="449.8" r="3.95"/><circle cx="206.6" cy="451.0" r="3.95"/><circle cx="167.2" cy="462.8" r="3.95"/><circle cx="180.3" cy="462.4" r="3.95"/><circle cx="193.5" cy="463.1" r="3.95"/><circle cx="180.3" cy="471.3" r="3.95"/><circle cx="206.6" cy="470.6" r="3.95"/><circle cx="206.6" cy="482.2" r="3.95"/><circle cx="193.5" cy="484.4" r="3.95"/><circle cx="206.6" cy="490.6" r="3.95"/><circle cx="180.3" cy="492.9" r="3.95"/><circle cx="193.5" cy="497.3" r="3.95"/><circle cx="180.3" cy="504.0" r="3.95"/><circle cx="206.6" cy="505.2" r="3.95"/><circle cx="193.5" cy="510.2" r="3.95"/><circle cx="180.3" cy="531.9" r="3.95"/><circle cx="193.5" cy="529.7" r="3.95"/><circle cx="206.6" cy="534.9" r="3.95"/><circle cx="219.9" cy="531.5" r="3.95"/><circle cx="180.3" cy="541.1" r="3.95"/></g>
<g fill="#F18425" stroke="#EA720E" stroke-width="0.7"><circle cx="319.8" cy="233.6" r="3.95"/><circle cx="330.0" cy="235.7" r="3.95"/><circle cx="325.1" cy="245.9" r="3.95"/><circle cx="325.1" cy="276.4" r="3.95"/><circle cx="325.1" cy="301.4" r="3.95"/><circle cx="325.1" cy="322.6" r="3.95"/><circle cx="325.1" cy="331.1" r="3.95"/><circle cx="325.1" cy="361.4" r="3.95"/><circle cx="319.8" cy="371.9" r="3.95"/><circle cx="330.0" cy="369.6" r="3.95"/><circle cx="314.7" cy="381.5" r="3.95"/><circle cx="325.1" cy="384.7" r="3.95"/><circle cx="335.1" cy="381.5" r="3.95"/><circle cx="335.1" cy="391.0" r="3.95"/><circle cx="325.1" cy="395.0" r="3.95"/><circle cx="315.0" cy="408.9" r="3.95"/><circle cx="325.1" cy="405.2" r="3.95"/><circle cx="335.1" cy="406.7" r="3.95"/><circle cx="325.1" cy="417.1" r="3.95"/><circle cx="315.0" cy="434.2" r="3.95"/><circle cx="325.1" cy="441.3" r="3.95"/><circle cx="315.0" cy="448.7" r="3.95"/><circle cx="325.1" cy="451.7" r="3.95"/><circle cx="325.1" cy="460.2" r="3.95"/><circle cx="335.1" cy="471.3" r="3.95"/><circle cx="315.0" cy="475.0" r="3.95"/><circle cx="325.1" cy="479.5" r="3.95"/><circle cx="315.0" cy="484.7" r="3.95"/><circle cx="305.4" cy="486.6" r="3.95"/><circle cx="344.7" cy="483.6" r="3.95"/><circle cx="354.8" cy="486.2" r="3.95"/><circle cx="335.1" cy="489.6" r="3.95"/><circle cx="325.1" cy="491.4" r="3.95"/><circle cx="344.7" cy="496.6" r="3.95"/><circle cx="354.8" cy="501.8" r="3.95"/><circle cx="364.8" cy="503.0" r="3.95"/><circle cx="325.1" cy="503.3" r="3.95"/><circle cx="285.3" cy="507.4" r="3.95"/><circle cx="295.4" cy="510.2" r="3.95"/><circle cx="305.4" cy="509.9" r="3.95"/><circle cx="315.0" cy="508.2" r="3.95"/><circle cx="335.1" cy="510.7" r="3.95"/><circle cx="344.7" cy="506.7" r="3.95"/><circle cx="354.8" cy="510.2" r="3.95"/><circle cx="325.1" cy="512.9" r="3.95"/><circle cx="285.3" cy="520.0" r="3.95"/><circle cx="305.4" cy="518.1" r="3.95"/><circle cx="344.7" cy="517.4" r="3.95"/><circle cx="354.8" cy="518.9" r="3.95"/><circle cx="364.8" cy="518.6" r="3.95"/><circle cx="315.0" cy="522.6" r="3.95"/><circle cx="325.1" cy="524.8" r="3.95"/><circle cx="335.1" cy="524.1" r="3.95"/><circle cx="305.4" cy="527.5" r="3.95"/><circle cx="344.7" cy="528.5" r="3.95"/><circle cx="354.8" cy="527.5" r="3.95"/><circle cx="364.8" cy="527.0" r="3.95"/><circle cx="295.4" cy="532.2" r="3.95"/><circle cx="315.0" cy="532.7" r="3.95"/><circle cx="335.1" cy="533.7" r="3.95"/><circle cx="325.1" cy="534.9" r="3.95"/><circle cx="305.4" cy="537.9" r="3.95"/><circle cx="344.7" cy="541.1" r="3.95"/></g>
<g fill="#35911F" stroke="#2A8216" stroke-width="0.7"><circle cx="457.1" cy="230.5" r="3.95"/><circle cx="458.9" cy="234.4" r="3.95"/><circle cx="455.4" cy="237.9" r="3.95"/><circle cx="452.6" cy="242.0" r="3.95"/><circle cx="461.7" cy="244.1" r="3.95"/><circle cx="455.4" cy="246.9" r="3.95"/><circle cx="453.3" cy="261.4" r="3.95"/><circle cx="463.7" cy="261.4" r="3.95"/><circle cx="451.3" cy="264.9" r="3.95"/><circle cx="463.0" cy="267.0" r="3.95"/><circle cx="452.0" cy="269.8" r="3.95"/><circle cx="458.9" cy="269.1" r="3.95"/><circle cx="456.1" cy="273.2" r="3.95"/><circle cx="461.7" cy="276.0" r="3.95"/><circle cx="452.6" cy="280.2" r="3.95"/><circle cx="462.3" cy="279.5" r="3.95"/><circle cx="455.4" cy="284.3" r="3.95"/><circle cx="454.0" cy="287.8" r="3.95"/><circle cx="460.3" cy="290.5" r="3.95"/><circle cx="456.1" cy="296.8" r="3.95"/><circle cx="458.9" cy="295.4" r="3.95"/><circle cx="458.9" cy="303.7" r="3.95"/><circle cx="454.0" cy="307.2" r="3.95"/><circle cx="459.6" cy="310.6" r="3.95"/><circle cx="454.7" cy="312.0" r="3.95"/><circle cx="452.6" cy="318.3" r="3.95"/><circle cx="461.7" cy="320.4" r="3.95"/><circle cx="456.1" cy="321.7" r="3.95"/><circle cx="452.0" cy="324.5" r="3.95"/><circle cx="462.3" cy="324.5" r="3.95"/><circle cx="458.9" cy="327.3" r="3.95"/><circle cx="457.1" cy="337.3" r="3.95"/><circle cx="455.4" cy="345.3" r="3.95"/><circle cx="458.9" cy="348.1" r="3.95"/><circle cx="456.8" cy="355.0" r="3.95"/><circle cx="460.3" cy="362.6" r="3.95"/><circle cx="454.0" cy="366.1" r="3.95"/><circle cx="457.5" cy="370.9" r="3.95"/><circle cx="454.7" cy="378.6" r="3.95"/><circle cx="456.7" cy="378.6" r="3.95"/><circle cx="453.8" cy="383.6" r="3.95"/><circle cx="460.9" cy="386.4" r="3.95"/><circle cx="455.2" cy="397.1" r="3.95"/><circle cx="459.5" cy="401.4" r="3.95"/><circle cx="451.0" cy="408.5" r="3.95"/><circle cx="463.8" cy="409.2" r="3.95"/><circle cx="448.1" cy="412.8" r="3.95"/><circle cx="458.1" cy="414.2" r="3.95"/><circle cx="456.7" cy="419.9" r="3.95"/><circle cx="455.2" cy="429.2" r="3.95"/><circle cx="459.5" cy="430.6" r="3.95"/><circle cx="455.2" cy="437.0" r="3.95"/><circle cx="460.2" cy="439.9" r="3.95"/><circle cx="463.8" cy="444.9" r="3.95"/><circle cx="451.7" cy="448.4" r="3.95"/><circle cx="458.1" cy="450.6" r="3.95"/><circle cx="455.2" cy="455.6" r="3.95"/><circle cx="463.8" cy="460.5" r="3.95"/><circle cx="450.2" cy="461.3" r="3.95"/><circle cx="449.5" cy="465.5" r="3.95"/><circle cx="451.0" cy="470.5" r="3.95"/><circle cx="463.8" cy="472.7" r="3.95"/><circle cx="453.8" cy="476.2" r="3.95"/><circle cx="458.1" cy="477.7" r="3.95"/><circle cx="465.2" cy="484.1" r="3.95"/><circle cx="446.7" cy="484.8" r="3.95"/><circle cx="451.0" cy="489.1" r="3.95"/><circle cx="459.5" cy="487.6" r="3.95"/><circle cx="465.9" cy="492.6" r="3.95"/><circle cx="448.1" cy="494.8" r="3.95"/><circle cx="453.8" cy="496.2" r="3.95"/><circle cx="460.9" cy="497.6" r="3.95"/><circle cx="437.8" cy="500.4" r="3.95"/><circle cx="442.0" cy="501.5" r="3.95"/><circle cx="451.1" cy="501.8" r="3.95"/><circle cx="455.2" cy="500.3" r="3.95"/><circle cx="461.0" cy="501.6" r="3.95"/><circle cx="465.4" cy="501.9" r="3.95"/><circle cx="469.0" cy="501.1" r="3.95"/><circle cx="472.9" cy="501.8" r="3.95"/><circle cx="440.1" cy="506.0" r="3.95"/><circle cx="445.2" cy="505.8" r="3.95"/><circle cx="448.6" cy="504.8" r="3.95"/><circle cx="453.7" cy="504.8" r="3.95"/><circle cx="457.4" cy="505.9" r="3.95"/><circle cx="462.5" cy="505.4" r="3.95"/><circle cx="472.3" cy="505.2" r="3.95"/><circle cx="436.8" cy="506.1" r="3.95"/><circle cx="440.7" cy="506.1" r="3.95"/><circle cx="445.2" cy="507.0" r="3.95"/><circle cx="450.4" cy="506.7" r="3.95"/><circle cx="454.9" cy="507.5" r="3.95"/><circle cx="459.4" cy="506.5" r="3.95"/><circle cx="464.3" cy="507.0" r="3.95"/><circle cx="468.8" cy="507.7" r="3.95"/><circle cx="473.0" cy="507.0" r="3.95"/><circle cx="439.4" cy="511.1" r="3.95"/><circle cx="443.5" cy="512.0" r="3.95"/><circle cx="448.7" cy="512.0" r="3.95"/><circle cx="452.7" cy="512.0" r="3.95"/><circle cx="456.4" cy="510.5" r="3.95"/><circle cx="460.8" cy="510.7" r="3.95"/><circle cx="466.4" cy="511.7" r="3.95"/><circle cx="475.4" cy="511.5" r="3.95"/><circle cx="432.5" cy="513.8" r="3.95"/><circle cx="437.1" cy="512.8" r="3.95"/><circle cx="441.7" cy="513.6" r="3.95"/><circle cx="445.2" cy="513.0" r="3.95"/><circle cx="449.3" cy="512.7" r="3.95"/><circle cx="453.4" cy="513.1" r="3.95"/><circle cx="457.9" cy="512.7" r="3.95"/><circle cx="463.3" cy="512.2" r="3.95"/><circle cx="473.1" cy="512.3" r="3.95"/><circle cx="476.0" cy="513.5" r="3.95"/><circle cx="480.6" cy="512.9" r="3.95"/><circle cx="438.1" cy="516.6" r="3.95"/><circle cx="447.9" cy="516.5" r="3.95"/><circle cx="452.4" cy="517.1" r="3.95"/><circle cx="457.3" cy="517.4" r="3.95"/><circle cx="460.3" cy="517.8" r="3.95"/><circle cx="466.2" cy="517.1" r="3.95"/><circle cx="470.1" cy="518.0" r="3.95"/><circle cx="473.9" cy="517.2" r="3.95"/><circle cx="478.3" cy="516.6" r="3.95"/><circle cx="483.0" cy="516.9" r="3.95"/><circle cx="427.3" cy="518.6" r="3.95"/><circle cx="430.7" cy="518.7" r="3.95"/><circle cx="435.4" cy="518.1" r="3.95"/><circle cx="440.4" cy="518.4" r="3.95"/><circle cx="445.6" cy="518.3" r="3.95"/><circle cx="449.2" cy="519.0" r="3.95"/><circle cx="453.6" cy="519.0" r="3.95"/><circle cx="459.2" cy="518.7" r="3.95"/><circle cx="463.2" cy="519.2" r="3.95"/><circle cx="467.0" cy="518.2" r="3.95"/><circle cx="471.0" cy="519.4" r="3.95"/><circle cx="475.7" cy="518.3" r="3.95"/><circle cx="481.5" cy="519.3" r="3.95"/><circle cx="484.8" cy="518.6" r="3.95"/><circle cx="489.2" cy="518.9" r="3.95"/><circle cx="422.6" cy="524.9" r="3.95"/><circle cx="425.8" cy="524.8" r="3.95"/><circle cx="430.5" cy="523.1" r="3.95"/><circle cx="435.3" cy="524.0" r="3.95"/><circle cx="439.8" cy="523.1" r="3.95"/><circle cx="443.6" cy="523.8" r="3.95"/><circle cx="447.9" cy="523.6" r="3.95"/><circle cx="453.5" cy="524.1" r="3.95"/><circle cx="458.1" cy="524.4" r="3.95"/><circle cx="462.1" cy="523.7" r="3.95"/><circle cx="471.7" cy="524.3" r="3.95"/><circle cx="476.4" cy="524.7" r="3.95"/><circle cx="480.7" cy="524.6" r="3.95"/><circle cx="484.8" cy="524.0" r="3.95"/><circle cx="489.8" cy="524.6" r="3.95"/><circle cx="419.0" cy="529.3" r="3.95"/><circle cx="422.3" cy="528.2" r="3.95"/><circle cx="427.0" cy="528.3" r="3.95"/><circle cx="431.9" cy="529.2" r="3.95"/><circle cx="436.6" cy="529.0" r="3.95"/><circle cx="441.3" cy="529.4" r="3.95"/><circle cx="445.4" cy="529.3" r="3.95"/><circle cx="450.2" cy="528.6" r="3.95"/><circle cx="453.9" cy="529.4" r="3.95"/><circle cx="459.2" cy="529.9" r="3.95"/><circle cx="463.1" cy="529.0" r="3.95"/><circle cx="468.3" cy="529.2" r="3.95"/><circle cx="471.5" cy="528.4" r="3.95"/><circle cx="477.2" cy="528.6" r="3.95"/><circle cx="480.4" cy="528.2" r="3.95"/><circle cx="486.1" cy="529.3" r="3.95"/><circle cx="489.9" cy="529.0" r="3.95"/><circle cx="494.7" cy="528.3" r="3.95"/><circle cx="420.0" cy="534.1" r="3.95"/><circle cx="424.2" cy="533.1" r="3.95"/><circle cx="430.4" cy="533.1" r="3.95"/><circle cx="433.5" cy="534.0" r="3.95"/><circle cx="438.7" cy="532.6" r="3.95"/><circle cx="443.9" cy="532.5" r="3.95"/><circle cx="447.6" cy="533.9" r="3.95"/><circle cx="451.6" cy="533.9" r="3.95"/><circle cx="455.7" cy="532.3" r="3.95"/><circle cx="461.0" cy="532.8" r="3.95"/><circle cx="465.3" cy="532.9" r="3.95"/><circle cx="469.2" cy="533.7" r="3.95"/><circle cx="473.9" cy="534.0" r="3.95"/><circle cx="479.8" cy="532.8" r="3.95"/><circle cx="483.4" cy="534.1" r="3.95"/><circle cx="487.8" cy="533.1" r="3.95"/><circle cx="491.7" cy="532.5" r="3.95"/><circle cx="427.4" cy="540.3" r="3.95"/><circle cx="431.9" cy="539.5" r="3.95"/><circle cx="436.6" cy="540.3" r="3.95"/><circle cx="441.9" cy="539.7" r="3.95"/><circle cx="455.2" cy="538.7" r="3.95"/><circle cx="459.2" cy="540.0" r="3.95"/><circle cx="463.4" cy="538.7" r="3.95"/><circle cx="472.7" cy="539.2" r="3.95"/><circle cx="477.7" cy="540.4" r="3.95"/><circle cx="482.1" cy="539.1" r="3.95"/><circle cx="486.1" cy="538.9" r="3.95"/><circle cx="429.3" cy="542.5" r="3.95"/><circle cx="433.8" cy="542.5" r="3.95"/><circle cx="442.7" cy="541.2" r="3.95"/><circle cx="447.5" cy="541.1" r="3.95"/><circle cx="451.9" cy="541.9" r="3.95"/><circle cx="465.6" cy="541.8" r="3.95"/><circle cx="470.0" cy="541.0" r="3.95"/><circle cx="475.6" cy="541.1" r="3.95"/><circle cx="479.5" cy="542.5" r="3.95"/><circle cx="483.4" cy="541.3" r="3.95"/><circle cx="488.2" cy="542.6" r="3.95"/><circle cx="455.6" cy="392.8" r="3.95"/><circle cx="454.1" cy="406.5" r="3.95"/><circle cx="458.0" cy="413.7" r="3.95"/><circle cx="459.4" cy="440.3" r="3.95"/><circle cx="456.1" cy="454.3" r="3.95"/><circle cx="453.9" cy="456.0" r="3.95"/><circle cx="463.2" cy="456.2" r="3.95"/><circle cx="452.2" cy="460.3" r="3.95"/><circle cx="454.3" cy="464.3" r="3.95"/><circle cx="451.6" cy="469.2" r="3.95"/><circle cx="461.1" cy="469.5" r="3.95"/><circle cx="453.9" cy="473.3" r="3.95"/><circle cx="459.7" cy="473.0" r="3.95"/><circle cx="456.5" cy="478.9" r="3.95"/><circle cx="462.2" cy="477.5" r="3.95"/><circle cx="450.8" cy="482.0" r="3.95"/><circle cx="458.7" cy="481.8" r="3.95"/><circle cx="464.1" cy="483.3" r="3.95"/><circle cx="452.3" cy="486.2" r="3.95"/><circle cx="460.7" cy="485.9" r="3.95"/><circle cx="451.1" cy="492.0" r="3.95"/><circle cx="451.9" cy="496.5" r="3.95"/><circle cx="461.9" cy="495.4" r="3.95"/><circle cx="450.0" cy="499.3" r="3.95"/><circle cx="454.4" cy="499.7" r="3.95"/><circle cx="464.7" cy="499.4" r="3.95"/></g>
<path d="M171.6,320.0H215.0M171.6,471.0H215.0M193.3,320.0V471.0" stroke="#000" stroke-width="2.15" fill="none"/>
<path d="M303.6,405.8H347.0M303.6,518.9H347.0M325.3,405.8V518.9" stroke="#000" stroke-width="2.15" fill="none"/>
<path d="M435.6,380.0H479.0M435.6,525.1H479.0M457.3,380.0V525.1" stroke="#000" stroke-width="2.15" fill="none"/>
<path d="M193.20000000000005,121.5V97.0H456.79999999999995V121.5" stroke="#1a1a1a" stroke-width="2.2" fill="none"/>
<text x="324.0999999999999" y="77.7" text-anchor="middle" font-size="31.6" class="pv">0.0001</text>
<path d="M193.20000000000005,205.8V181.3H317.20000000000005V205.8" stroke="#1a1a1a" stroke-width="2.2" fill="none"/>
<text x="254.79999999999995" y="161.9" text-anchor="middle" font-size="31.6" class="pv">0.0035</text>
<path d="M333.0999999999999,205.8V181.3H456.79999999999995V205.8" stroke="#1a1a1a" stroke-width="2.2" fill="none"/>
<text x="395.20000000000005" y="161.9" text-anchor="middle" font-size="31.6" class="pv">&gt;0.9999</text>
<text transform="translate(41.8,295.1) rotate(-90)" text-anchor="middle" class="yt">FcγRIIa (OD<tspan class="sb" dy="7">450nm</tspan><tspan dy="-7">)</tspan></text>
</g>
<text x="1192.6" y="29.6" class="pl">c.</text>
<g transform="translate(2.0,630.4) scale(0.99813)">
<rect x="152.8" y="407.1" width="81" height="134.4" fill="#615EFF" fill-opacity="0.385" stroke="none"/>
<path d="M152.8,541.5V407.1H233.8V541.5" fill="none" stroke="#000" stroke-width="6.0" stroke-linejoin="miter"/>
<rect x="284.8" y="484.9" width="81" height="56.6" fill="#E1C382" fill-opacity="0.24" stroke="none"/>
<path d="M284.8,541.5V484.9H365.8V541.5" fill="none" stroke="#000" stroke-width="6.0" stroke-linejoin="miter"/>
<rect x="416.8" y="489.5" width="81" height="52.0" fill="#3CAA46" fill-opacity="0.3" stroke="none"/>
<path d="M416.8,541.5V489.5H497.8V541.5" fill="none" stroke="#000" stroke-width="6.0" stroke-linejoin="miter"/>
<path d="M106.0,46.7V541.5" stroke="#000" stroke-width="3.8" fill="none"/>
<path d="M88.3,541.5H547" stroke="#000" stroke-width="3.8" fill="none"/>
<text x="83.5" y="552.3" text-anchor="end" class="tk">0</text>
<path d="M96,479.9H106.0" stroke="#000" stroke-width="3.8"/>
<path d="M88.5,418.3H106.0" stroke="#000" stroke-width="3.8"/>
<text x="83.5" y="429.1" text-anchor="end" class="tk">1</text>
<path d="M96,356.7H106.0" stroke="#000" stroke-width="3.8"/>
<path d="M88.5,295.1H106.0" stroke="#000" stroke-width="3.8"/>
<text x="83.5" y="305.9" text-anchor="end" class="tk">2</text>
<path d="M96,233.5H106.0" stroke="#000" stroke-width="3.8"/>
<path d="M88.5,171.9H106.0" stroke="#000" stroke-width="3.8"/>
<text x="83.5" y="182.7" text-anchor="end" class="tk">3</text>
<path d="M96,110.2H106.0" stroke="#000" stroke-width="3.8"/>
<path d="M88.5,48.6H106.0" stroke="#000" stroke-width="3.8"/>
<text x="83.5" y="59.4" text-anchor="end" class="tk">4</text>
<path d="M193.3,541.5V559.5" stroke="#000" stroke-width="3.8"/>
<text x="193.3" y="592.5" text-anchor="middle" class="xl">AZ-N</text>
<path d="M325.3,541.5V559.5" stroke="#000" stroke-width="3.8"/>
<text x="325.3" y="592.5" text-anchor="middle" class="xl">SV-N</text>
<path d="M457.3,541.5V559.5" stroke="#000" stroke-width="3.8"/>
<text x="457.3" y="592.5" text-anchor="middle" class="xl">I</text>
<g fill="#6457FF" stroke="#4B3AFF" stroke-width="0.7"><circle cx="160.0" cy="217.6" r="3.95"/><circle cx="176.6" cy="218.6" r="3.95"/><circle cx="226.9" cy="217.6" r="3.95"/><circle cx="193.4" cy="225.0" r="3.95"/><circle cx="176.6" cy="228.2" r="3.95"/><circle cx="209.9" cy="228.6" r="3.95"/><circle cx="193.4" cy="235.2" r="3.95"/><circle cx="209.9" cy="264.3" r="3.95"/><circle cx="176.6" cy="271.7" r="3.95"/><circle cx="193.4" cy="270.6" r="3.95"/><circle cx="193.4" cy="279.8" r="3.95"/><circle cx="193.4" cy="295.5" r="3.95"/><circle cx="201.9" cy="306.3" r="3.95"/><circle cx="184.9" cy="310.5" r="3.95"/><circle cx="176.6" cy="320.9" r="3.95"/><circle cx="193.4" cy="329.0" r="3.95"/><circle cx="209.9" cy="335.4" r="3.95"/><circle cx="193.4" cy="344.9" r="3.95"/><circle cx="193.4" cy="363.0" r="3.95"/><circle cx="160.0" cy="365.5" r="3.95"/><circle cx="176.6" cy="366.6" r="3.95"/><circle cx="226.9" cy="368.7" r="3.95"/><circle cx="193.4" cy="372.1" r="3.95"/><circle cx="201.9" cy="380.6" r="3.95"/><circle cx="184.9" cy="383.6" r="3.95"/><circle cx="209.9" cy="397.6" r="3.95"/><circle cx="160.0" cy="402.3" r="3.95"/><circle cx="226.9" cy="403.3" r="3.95"/><circle cx="193.4" cy="405.4" r="3.95"/><circle cx="176.6" cy="409.7" r="3.95"/><circle cx="209.9" cy="410.8" r="3.95"/><circle cx="193.4" cy="426.3" r="3.95"/><circle cx="209.9" cy="432.0" r="3.95"/><circle cx="176.6" cy="435.8" r="3.95"/><circle cx="193.4" cy="437.3" r="3.95"/><circle cx="185.1" cy="453.9" r="3.95"/><circle cx="201.7" cy="457.2" r="3.95"/><circle cx="168.4" cy="459.9" r="3.95"/><circle cx="218.5" cy="459.9" r="3.95"/><circle cx="210.1" cy="468.8" r="3.95"/><circle cx="176.9" cy="472.2" r="3.95"/><circle cx="193.5" cy="478.8" r="3.95"/><circle cx="176.9" cy="489.2" r="3.95"/><circle cx="193.5" cy="487.9" r="3.95"/><circle cx="210.1" cy="491.4" r="3.95"/><circle cx="210.1" cy="501.3" r="3.95"/><circle cx="160.1" cy="507.1" r="3.95"/><circle cx="193.5" cy="510.2" r="3.95"/><circle cx="210.1" cy="512.7" r="3.95"/><circle cx="226.7" cy="515.4" r="3.95"/><circle cx="160.1" cy="517.6" r="3.95"/><circle cx="193.5" cy="519.7" r="3.95"/><circle cx="193.5" cy="532.5" r="3.95"/><circle cx="176.9" cy="535.5" r="3.95"/><circle cx="210.1" cy="534.3" r="3.95"/></g>
<g fill="#F18425" stroke="#EA720E" stroke-width="0.7"><circle cx="334.8" cy="210.8" r="3.95"/><circle cx="315.0" cy="217.6" r="3.95"/><circle cx="325.0" cy="220.7" r="3.95"/><circle cx="325.0" cy="230.3" r="3.95"/><circle cx="319.9" cy="253.2" r="3.95"/><circle cx="330.1" cy="253.6" r="3.95"/><circle cx="325.0" cy="301.8" r="3.95"/><circle cx="325.0" cy="324.1" r="3.95"/><circle cx="325.0" cy="342.8" r="3.95"/><circle cx="334.8" cy="354.5" r="3.95"/><circle cx="325.0" cy="360.2" r="3.95"/><circle cx="315.0" cy="368.3" r="3.95"/><circle cx="334.8" cy="374.2" r="3.95"/><circle cx="315.0" cy="378.5" r="3.95"/><circle cx="315.0" cy="388.9" r="3.95"/><circle cx="334.8" cy="391.6" r="3.95"/><circle cx="305.0" cy="393.1" r="3.95"/><circle cx="344.7" cy="396.3" r="3.95"/><circle cx="325.0" cy="399.1" r="3.95"/><circle cx="325.0" cy="429.4" r="3.95"/><circle cx="334.8" cy="443.0" r="3.95"/><circle cx="315.0" cy="447.3" r="3.95"/><circle cx="325.0" cy="447.9" r="3.95"/><circle cx="334.9" cy="453.6" r="3.95"/><circle cx="315.3" cy="461.4" r="3.95"/><circle cx="325.0" cy="462.9" r="3.95"/><circle cx="345.1" cy="464.6" r="3.95"/><circle cx="315.3" cy="470.0" r="3.95"/><circle cx="325.0" cy="471.5" r="3.95"/><circle cx="334.9" cy="473.6" r="3.95"/><circle cx="315.3" cy="478.8" r="3.95"/><circle cx="305.6" cy="483.0" r="3.95"/><circle cx="325.0" cy="481.9" r="3.95"/><circle cx="334.9" cy="482.2" r="3.95"/><circle cx="345.1" cy="482.2" r="3.95"/><circle cx="295.2" cy="488.5" r="3.95"/><circle cx="305.6" cy="491.9" r="3.95"/><circle cx="334.9" cy="491.1" r="3.95"/><circle cx="345.1" cy="491.1" r="3.95"/><circle cx="355.2" cy="490.4" r="3.95"/><circle cx="325.0" cy="494.4" r="3.95"/><circle cx="315.3" cy="498.9" r="3.95"/><circle cx="305.6" cy="503.1" r="3.95"/><circle cx="345.1" cy="502.6" r="3.95"/><circle cx="315.3" cy="508.3" r="3.95"/><circle cx="325.0" cy="509.3" r="3.95"/><circle cx="305.6" cy="512.7" r="3.95"/><circle cx="334.9" cy="516.1" r="3.95"/><circle cx="325.0" cy="519.4" r="3.95"/><circle cx="285.2" cy="522.4" r="3.95"/><circle cx="295.2" cy="522.0" r="3.95"/><circle cx="364.7" cy="521.2" r="3.95"/><circle cx="315.3" cy="524.6" r="3.95"/><circle cx="334.9" cy="525.1" r="3.95"/><circle cx="345.1" cy="525.1" r="3.95"/><circle cx="355.2" cy="526.6" r="3.95"/><circle cx="305.6" cy="528.1" r="3.95"/><circle cx="325.0" cy="528.4" r="3.95"/><circle cx="315.3" cy="532.8" r="3.95"/><circle cx="325.0" cy="536.5" r="3.95"/><circle cx="334.9" cy="536.5" r="3.95"/><circle cx="305.6" cy="540.0" r="3.95"/><circle cx="345.1" cy="540.3" r="3.95"/></g>
<g fill="#35911F" stroke="#2A8216" stroke-width="0.7"><circle cx="457.1" cy="199.1" r="3.95"/><circle cx="456.6" cy="204.9" r="3.95"/><circle cx="452.9" cy="219.8" r="3.95"/><circle cx="462.4" cy="219.1" r="3.95"/><circle cx="457.0" cy="224.2" r="3.95"/><circle cx="455.1" cy="229.4" r="3.95"/><circle cx="459.5" cy="228.6" r="3.95"/><circle cx="457.0" cy="233.1" r="3.95"/><circle cx="449.2" cy="241.1" r="3.95"/><circle cx="457.0" cy="240.4" r="3.95"/><circle cx="461.7" cy="241.9" r="3.95"/><circle cx="466.1" cy="244.1" r="3.95"/><circle cx="447.0" cy="247.0" r="3.95"/><circle cx="452.9" cy="246.3" r="3.95"/><circle cx="458.8" cy="247.0" r="3.95"/><circle cx="467.6" cy="247.8" r="3.95"/><circle cx="463.2" cy="251.4" r="3.95"/><circle cx="457.0" cy="252.2" r="3.95"/><circle cx="452.9" cy="255.8" r="3.95"/><circle cx="459.5" cy="258.1" r="3.95"/><circle cx="455.1" cy="264.7" r="3.95"/><circle cx="459.5" cy="262.5" r="3.95"/><circle cx="457.0" cy="271.3" r="3.95"/><circle cx="457.0" cy="277.2" r="3.95"/><circle cx="457.0" cy="288.9" r="3.95"/><circle cx="455.8" cy="300.0" r="3.95"/><circle cx="453.6" cy="305.1" r="3.95"/><circle cx="460.2" cy="304.4" r="3.95"/><circle cx="457.0" cy="308.8" r="3.95"/><circle cx="453.6" cy="313.2" r="3.95"/><circle cx="460.2" cy="312.9" r="3.95"/><circle cx="457.0" cy="320.5" r="3.95"/><circle cx="457.0" cy="324.2" r="3.95"/><circle cx="454.7" cy="327.9" r="3.95"/><circle cx="459.5" cy="330.5" r="3.95"/><circle cx="457.0" cy="334.5" r="3.95"/><circle cx="457.0" cy="347.7" r="3.95"/><circle cx="454.7" cy="352.2" r="3.95"/><circle cx="459.5" cy="352.2" r="3.95"/><circle cx="457.0" cy="358.8" r="3.95"/><circle cx="455.1" cy="370.9" r="3.95"/><circle cx="458.6" cy="370.2" r="3.95"/><circle cx="457.8" cy="374.1" r="3.95"/><circle cx="455.2" cy="378.2" r="3.95"/><circle cx="460.1" cy="379.6" r="3.95"/><circle cx="456.0" cy="382.6" r="3.95"/><circle cx="460.0" cy="388.7" r="3.95"/><circle cx="456.5" cy="393.3" r="3.95"/><circle cx="454.0" cy="397.2" r="3.95"/><circle cx="459.0" cy="395.7" r="3.95"/><circle cx="457.8" cy="401.4" r="3.95"/><circle cx="458.9" cy="405.5" r="3.95"/><circle cx="459.0" cy="414.2" r="3.95"/><circle cx="457.8" cy="418.1" r="3.95"/><circle cx="454.9" cy="423.8" r="3.95"/><circle cx="459.7" cy="422.8" r="3.95"/><circle cx="454.2" cy="431.0" r="3.95"/><circle cx="458.9" cy="430.9" r="3.95"/><circle cx="456.1" cy="433.9" r="3.95"/><circle cx="454.1" cy="440.2" r="3.95"/><circle cx="458.6" cy="444.6" r="3.95"/><circle cx="457.4" cy="449.7" r="3.95"/><circle cx="454.3" cy="454.5" r="3.95"/><circle cx="460.0" cy="454.9" r="3.95"/><circle cx="456.2" cy="459.3" r="3.95"/><circle cx="454.6" cy="462.8" r="3.95"/><circle cx="458.9" cy="462.6" r="3.95"/><circle cx="456.3" cy="468.2" r="3.95"/><circle cx="454.1" cy="471.7" r="3.95"/><circle cx="456.4" cy="476.9" r="3.95"/><circle cx="455.4" cy="479.9" r="3.95"/><circle cx="460.1" cy="481.4" r="3.95"/><circle cx="454.0" cy="488.8" r="3.95"/><circle cx="460.4" cy="489.7" r="3.95"/><circle cx="455.2" cy="498.2" r="3.95"/><circle cx="460.0" cy="499.2" r="3.95"/><circle cx="445.2" cy="484.8" r="3.95"/><circle cx="450.3" cy="484.2" r="3.95"/><circle cx="454.8" cy="484.1" r="3.95"/><circle cx="459.4" cy="484.3" r="3.95"/><circle cx="464.4" cy="484.9" r="3.95"/><circle cx="468.8" cy="483.9" r="3.95"/><circle cx="451.2" cy="501.0" r="3.95"/><circle cx="454.8" cy="502.1" r="3.95"/><circle cx="459.1" cy="500.8" r="3.95"/><circle cx="453.2" cy="506.0" r="3.95"/><circle cx="457.0" cy="506.1" r="3.95"/><circle cx="461.7" cy="505.4" r="3.95"/><circle cx="449.5" cy="509.3" r="3.95"/><circle cx="454.5" cy="510.4" r="3.95"/><circle cx="457.8" cy="510.0" r="3.95"/><circle cx="462.0" cy="510.3" r="3.95"/><circle cx="468.0" cy="509.4" r="3.95"/><circle cx="447.0" cy="513.2" r="3.95"/><circle cx="451.7" cy="514.0" r="3.95"/><circle cx="460.8" cy="513.5" r="3.95"/><circle cx="464.5" cy="513.4" r="3.95"/><circle cx="470.4" cy="513.1" r="3.95"/><circle cx="439.4" cy="518.4" r="3.95"/><circle cx="442.7" cy="518.4" r="3.95"/><circle cx="451.5" cy="518.3" r="3.95"/><circle cx="457.6" cy="517.8" r="3.95"/><circle cx="460.8" cy="518.1" r="3.95"/><circle cx="465.7" cy="518.2" r="3.95"/><circle cx="469.8" cy="517.1" r="3.95"/><circle cx="474.9" cy="517.4" r="3.95"/><circle cx="440.6" cy="522.2" r="3.95"/><circle cx="444.8" cy="521.9" r="3.95"/><circle cx="449.3" cy="522.4" r="3.95"/><circle cx="454.8" cy="521.9" r="3.95"/><circle cx="458.8" cy="521.6" r="3.95"/><circle cx="463.5" cy="522.1" r="3.95"/><circle cx="468.0" cy="520.9" r="3.95"/><circle cx="472.6" cy="521.3" r="3.95"/><circle cx="433.3" cy="524.5" r="3.95"/><circle cx="437.3" cy="523.9" r="3.95"/><circle cx="441.7" cy="523.8" r="3.95"/><circle cx="446.4" cy="523.8" r="3.95"/><circle cx="450.1" cy="525.0" r="3.95"/><circle cx="455.4" cy="523.8" r="3.95"/><circle cx="459.6" cy="525.4" r="3.95"/><circle cx="465.0" cy="525.5" r="3.95"/><circle cx="469.4" cy="524.0" r="3.95"/><circle cx="478.7" cy="525.3" r="3.95"/><circle cx="435.6" cy="529.6" r="3.95"/><circle cx="439.3" cy="529.3" r="3.95"/><circle cx="444.8" cy="528.4" r="3.95"/><circle cx="447.9" cy="528.8" r="3.95"/><circle cx="457.2" cy="528.8" r="3.95"/><circle cx="461.3" cy="528.2" r="3.95"/><circle cx="467.4" cy="529.1" r="3.95"/><circle cx="470.5" cy="529.3" r="3.95"/><circle cx="475.7" cy="529.0" r="3.95"/><circle cx="480.8" cy="528.9" r="3.95"/><circle cx="418.5" cy="529.9" r="3.95"/><circle cx="426.6" cy="531.1" r="3.95"/><circle cx="432.2" cy="530.7" r="3.95"/><circle cx="436.3" cy="530.5" r="3.95"/><circle cx="440.8" cy="529.8" r="3.95"/><circle cx="444.4" cy="530.8" r="3.95"/><circle cx="454.1" cy="530.3" r="3.95"/><circle cx="457.5" cy="530.0" r="3.95"/><circle cx="462.7" cy="530.6" r="3.95"/><circle cx="466.7" cy="530.1" r="3.95"/><circle cx="471.0" cy="529.7" r="3.95"/><circle cx="475.7" cy="530.3" r="3.95"/><circle cx="481.1" cy="530.8" r="3.95"/><circle cx="485.6" cy="530.5" r="3.95"/><circle cx="490.7" cy="530.1" r="3.95"/><circle cx="493.7" cy="530.8" r="3.95"/><circle cx="420.5" cy="534.6" r="3.95"/><circle cx="423.7" cy="535.1" r="3.95"/><circle cx="428.8" cy="535.1" r="3.95"/><circle cx="434.3" cy="535.2" r="3.95"/><circle cx="438.8" cy="534.0" r="3.95"/><circle cx="442.4" cy="534.3" r="3.95"/><circle cx="447.6" cy="533.9" r="3.95"/><circle cx="452.4" cy="534.2" r="3.95"/><circle cx="456.3" cy="534.8" r="3.95"/><circle cx="461.2" cy="534.2" r="3.95"/><circle cx="464.8" cy="534.0" r="3.95"/><circle cx="470.1" cy="535.2" r="3.95"/><circle cx="474.8" cy="535.2" r="3.95"/><circle cx="479.1" cy="534.7" r="3.95"/><circle cx="482.4" cy="534.3" r="3.95"/><circle cx="487.4" cy="535.3" r="3.95"/><circle cx="492.8" cy="535.2" r="3.95"/><circle cx="496.8" cy="534.7" r="3.95"/><circle cx="417.8" cy="538.6" r="3.95"/><circle cx="423.1" cy="538.5" r="3.95"/><circle cx="425.9" cy="538.6" r="3.95"/><circle cx="431.7" cy="539.8" r="3.95"/><circle cx="435.5" cy="539.7" r="3.95"/><circle cx="439.9" cy="539.7" r="3.95"/><circle cx="445.2" cy="539.3" r="3.95"/><circle cx="454.5" cy="539.4" r="3.95"/><circle cx="458.2" cy="539.4" r="3.95"/><circle cx="462.5" cy="538.5" r="3.95"/><circle cx="466.6" cy="539.7" r="3.95"/><circle cx="471.0" cy="538.3" r="3.95"/><circle cx="476.1" cy="538.4" r="3.95"/><circle cx="480.1" cy="539.4" r="3.95"/><circle cx="485.8" cy="539.4" r="3.95"/><circle cx="490.1" cy="538.8" r="3.95"/><circle cx="495.0" cy="539.7" r="3.95"/></g>
<path d="M106.8,540.5107551120597H543.2" stroke="#F03A42" stroke-width="4.2" stroke-dasharray="8.2 12.6" stroke-linecap="round" fill="none"/>
<path d="M171.6,310.6H215.0M171.6,478.8H215.0M193.3,310.6V478.8" stroke="#000" stroke-width="2.15" fill="none"/>
<path d="M303.6,392.3H347.0M303.6,516.2H347.0M325.3,392.3V516.2" stroke="#000" stroke-width="2.15" fill="none"/>
<path d="M435.6,348.5H479.0M435.6,529.4H479.0M457.3,348.5V529.4" stroke="#000" stroke-width="2.15" fill="none"/>
<path d="M193.1612114654404,90.32290182641543V65.72290182641542H457.2550669752437V90.32290182641543" stroke="#1a1a1a" stroke-width="2.2" fill="none"/>
<text x="324.9576708444792" y="46.386743209802404" text-anchor="middle" font-size="31.6" class="pv">0.0007</text>
<path d="M193.1612114654404,174.48083816737298V150.18083816737297H316.9927764920401V174.48083816737298" stroke="#1a1a1a" stroke-width="2.2" fill="none"/>
<text x="254.87661927804993" y="130.6443048500696" text-anchor="middle" font-size="31.6" class="pv">0.0316</text>
<path d="M333.3233145982988,174.48083816737298V150.18083816737297H457.2550669752437V174.48083816737298" stroke="#1a1a1a" stroke-width="2.2" fill="none"/>
<text x="395.33928446194386" y="130.6443048500696" text-anchor="middle" font-size="31.6" class="pv">&gt;0.9999</text>
<text transform="translate(41.8,295.1) rotate(-90)" text-anchor="middle" class="yt">FcγRIII (OD<tspan class="sb" dy="7">450nm</tspan><tspan dy="-7">)</tspan></text>
</g>
<text x="0.5" y="663.7" class="pl">d.</text>
<g transform="translate(601.3,631.4)">
<path d="M106.8,527.5000000000001H543.2" stroke="#F03A42" stroke-width="4.2" stroke-dasharray="8.2 12.6" stroke-linecap="round" fill="none"/>
<rect x="152.8" y="510.8" width="81" height="30.7" fill="#615EFF" fill-opacity="0.385" stroke="none"/>
<path d="M152.8,541.5V510.8H233.8V541.5" fill="none" stroke="#000" stroke-width="6.0" stroke-linejoin="miter"/>
<rect x="284.8" y="518.5" width="81" height="23.0" fill="#E1C382" fill-opacity="0.24" stroke="none"/>
<path d="M284.8,541.5V518.5H365.8V541.5" fill="none" stroke="#000" stroke-width="6.0" stroke-linejoin="miter"/>
<rect x="416.8" y="513.6" width="81" height="27.9" fill="#3CAA46" fill-opacity="0.3" stroke="none"/>
<path d="M416.8,541.5V513.6H497.8V541.5" fill="none" stroke="#000" stroke-width="6.0" stroke-linejoin="miter"/>
<path d="M106.0,46.7V541.5" stroke="#000" stroke-width="3.8" fill="none"/>
<path d="M88.3,541.5H547" stroke="#000" stroke-width="3.8" fill="none"/>
<text x="83.5" y="552.3" text-anchor="end" class="tk">0</text>
<path d="M96,479.9H106.0" stroke="#000" stroke-width="3.8"/>
<path d="M88.5,418.3H106.0" stroke="#000" stroke-width="3.8"/>
<text x="83.5" y="429.1" text-anchor="end" class="tk">1</text>
<path d="M96,356.7H106.0" stroke="#000" stroke-width="3.8"/>
<path d="M88.5,295.1H106.0" stroke="#000" stroke-width="3.8"/>
<text x="83.5" y="305.9" text-anchor="end" class="tk">2</text>
<path d="M96,233.5H106.0" stroke="#000" stroke-width="3.8"/>
<path d="M88.5,171.9H106.0" stroke="#000" stroke-width="3.8"/>
<text x="83.5" y="182.7" text-anchor="end" class="tk">3</text>
<path d="M96,110.2H106.0" stroke="#000" stroke-width="3.8"/>
<path d="M88.5,48.6H106.0" stroke="#000" stroke-width="3.8"/>
<text x="83.5" y="59.4" text-anchor="end" class="tk">4</text>
<path d="M193.3,541.5V559.5" stroke="#000" stroke-width="3.8"/>
<text x="193.3" y="592.5" text-anchor="middle" class="xl">AZ-N</text>
<path d="M325.3,541.5V559.5" stroke="#000" stroke-width="3.8"/>
<text x="325.3" y="592.5" text-anchor="middle" class="xl">SV-N</text>
<path d="M457.3,541.5V559.5" stroke="#000" stroke-width="3.8"/>
<text x="457.3" y="592.5" text-anchor="middle" class="xl">I</text>
<g fill="#6457FF" stroke="#4B3AFF" stroke-width="0.7"><circle cx="193.7" cy="298.8" r="3.95"/><circle cx="193.7" cy="316.1" r="3.95"/><circle cx="200.3" cy="371.9" r="3.95"/><circle cx="193.7" cy="376.5" r="3.95"/><circle cx="193.7" cy="388.6" r="3.95"/><circle cx="193.7" cy="434.4" r="3.95"/><circle cx="193.7" cy="444.4" r="3.95"/><circle cx="173.8" cy="463.0" r="3.95"/><circle cx="180.4" cy="467.0" r="3.95"/><circle cx="187.0" cy="469.1" r="3.95"/><circle cx="193.5" cy="461.3" r="3.95"/><circle cx="200.0" cy="467.0" r="3.95"/><circle cx="206.7" cy="469.1" r="3.95"/><circle cx="193.5" cy="474.4" r="3.95"/><circle cx="193.5" cy="484.2" r="3.95"/><circle cx="200.0" cy="487.8" r="3.95"/><circle cx="160.5" cy="491.5" r="3.95"/><circle cx="226.5" cy="494.1" r="3.95"/><circle cx="180.4" cy="499.2" r="3.95"/><circle cx="220.0" cy="500.1" r="3.95"/><circle cx="167.0" cy="503.3" r="3.95"/><circle cx="213.0" cy="504.5" r="3.95"/><circle cx="193.5" cy="504.5" r="3.95"/><circle cx="187.0" cy="506.6" r="3.95"/><circle cx="200.0" cy="507.4" r="3.95"/><circle cx="154.0" cy="507.8" r="3.95"/><circle cx="160.5" cy="508.2" r="3.95"/><circle cx="226.5" cy="507.8" r="3.95"/><circle cx="233.0" cy="506.2" r="3.95"/><circle cx="206.5" cy="509.8" r="3.95"/><circle cx="180.4" cy="509.8" r="3.95"/><circle cx="220.0" cy="509.8" r="3.95"/><circle cx="167.0" cy="511.1" r="3.95"/><circle cx="173.8" cy="513.5" r="3.95"/><circle cx="213.0" cy="513.5" r="3.95"/><circle cx="187.0" cy="513.9" r="3.95"/><circle cx="200.0" cy="514.3" r="3.95"/><circle cx="180.4" cy="517.2" r="3.95"/><circle cx="206.5" cy="517.2" r="3.95"/><circle cx="193.5" cy="518.8" r="3.95"/><circle cx="167.0" cy="521.2" r="3.95"/><circle cx="220.0" cy="521.2" r="3.95"/><circle cx="173.8" cy="525.3" r="3.95"/><circle cx="187.0" cy="524.5" r="3.95"/><circle cx="213.0" cy="524.5" r="3.95"/><circle cx="180.4" cy="528.6" r="3.95"/><circle cx="200.0" cy="527.4" r="3.95"/><circle cx="206.5" cy="527.8" r="3.95"/><circle cx="193.5" cy="535.9" r="3.95"/><circle cx="173.8" cy="541.5" r="3.95"/><circle cx="187.0" cy="541.5" r="3.95"/><circle cx="200.0" cy="541.2" r="3.95"/><circle cx="206.5" cy="541.5" r="3.95"/><circle cx="213.0" cy="541.5" r="3.95"/></g>
<g fill="#F18425" stroke="#EA720E" stroke-width="0.7"><circle cx="325.1" cy="358.5" r="3.95"/><circle cx="325.1" cy="406.6" r="3.95"/><circle cx="325.1" cy="416.4" r="3.95"/><circle cx="325.2" cy="469.5" r="3.95"/><circle cx="322.7" cy="480.5" r="3.95"/><circle cx="333.0" cy="480.9" r="3.95"/><circle cx="306.5" cy="482.9" r="3.95"/><circle cx="317.5" cy="488.2" r="3.95"/><circle cx="338.5" cy="489.9" r="3.95"/><circle cx="306.5" cy="494.8" r="3.95"/><circle cx="312.0" cy="494.8" r="3.95"/><circle cx="322.7" cy="493.5" r="3.95"/><circle cx="333.0" cy="492.7" r="3.95"/><circle cx="343.8" cy="494.8" r="3.95"/><circle cx="349.1" cy="496.8" r="3.95"/><circle cx="296.1" cy="496.8" r="3.95"/><circle cx="301.4" cy="500.5" r="3.95"/><circle cx="306.5" cy="504.1" r="3.95"/><circle cx="312.0" cy="506.6" r="3.95"/><circle cx="333.0" cy="501.7" r="3.95"/><circle cx="338.5" cy="505.8" r="3.95"/><circle cx="343.8" cy="507.8" r="3.95"/><circle cx="349.1" cy="512.3" r="3.95"/><circle cx="328.1" cy="508.2" r="3.95"/><circle cx="322.7" cy="502.5" r="3.95"/><circle cx="317.5" cy="512.3" r="3.95"/><circle cx="312.0" cy="514.3" r="3.95"/><circle cx="306.5" cy="514.3" r="3.95"/><circle cx="333.0" cy="514.3" r="3.95"/><circle cx="328.1" cy="518.0" r="3.95"/><circle cx="301.4" cy="518.8" r="3.95"/><circle cx="343.8" cy="518.0" r="3.95"/><circle cx="349.1" cy="521.7" r="3.95"/><circle cx="338.5" cy="521.7" r="3.95"/><circle cx="306.5" cy="522.9" r="3.95"/><circle cx="301.4" cy="527.8" r="3.95"/><circle cx="322.7" cy="526.1" r="3.95"/><circle cx="354.3" cy="525.3" r="3.95"/><circle cx="359.6" cy="528.6" r="3.95"/><circle cx="312.0" cy="529.4" r="3.95"/><circle cx="338.5" cy="529.4" r="3.95"/><circle cx="343.8" cy="528.6" r="3.95"/><circle cx="285.5" cy="531.0" r="3.95"/><circle cx="292.0" cy="533.5" r="3.95"/><circle cx="364.9" cy="533.5" r="3.95"/><circle cx="364.9" cy="535.9" r="3.95"/><circle cx="285.5" cy="541.5" r="3.95"/><circle cx="301.4" cy="538.4" r="3.95"/><circle cx="296.1" cy="541.5" r="3.95"/><circle cx="301.4" cy="541.5" r="3.95"/><circle cx="306.7" cy="541.5" r="3.95"/><circle cx="312.0" cy="541.5" r="3.95"/><circle cx="317.3" cy="541.5" r="3.95"/><circle cx="322.6" cy="541.5" r="3.95"/><circle cx="327.9" cy="541.5" r="3.95"/><circle cx="333.2" cy="541.5" r="3.95"/><circle cx="338.5" cy="541.5" r="3.95"/><circle cx="343.8" cy="541.5" r="3.95"/><circle cx="349.1" cy="541.5" r="3.95"/><circle cx="354.3" cy="541.5" r="3.95"/><circle cx="359.6" cy="541.5" r="3.95"/></g>
<g fill="#35911F" stroke="#2A8216" stroke-width="0.7"><circle cx="457.1" cy="274.3" r="3.95"/><circle cx="457.1" cy="288.7" r="3.95"/><circle cx="457.1" cy="291.2" r="3.95"/><circle cx="457.1" cy="345.9" r="3.95"/><circle cx="457.1" cy="349.9" r="3.95"/><circle cx="457.1" cy="380.1" r="3.95"/><circle cx="455.7" cy="393.6" r="3.95"/><circle cx="458.6" cy="396.6" r="3.95"/><circle cx="457.9" cy="401.7" r="3.95"/><circle cx="456.0" cy="407.6" r="3.95"/><circle cx="458.9" cy="409.8" r="3.95"/><circle cx="455.7" cy="415.6" r="3.95"/><circle cx="457.4" cy="421.2" r="3.95"/><circle cx="457.1" cy="427.4" r="3.95"/><circle cx="454.8" cy="431.3" r="3.95"/><circle cx="455.9" cy="434.2" r="3.95"/><circle cx="454.8" cy="439.5" r="3.95"/><circle cx="459.1" cy="439.2" r="3.95"/><circle cx="455.8" cy="442.6" r="3.95"/><circle cx="453.7" cy="447.1" r="3.95"/><circle cx="457.8" cy="447.0" r="3.95"/><circle cx="456.7" cy="451.4" r="3.95"/><circle cx="454.9" cy="455.8" r="3.95"/><circle cx="458.8" cy="455.0" r="3.95"/><circle cx="456.3" cy="460.4" r="3.95"/><circle cx="454.5" cy="464.3" r="3.95"/><circle cx="459.2" cy="463.5" r="3.95"/><circle cx="455.9" cy="467.6" r="3.95"/><circle cx="452.1" cy="475.4" r="3.95"/><circle cx="456.1" cy="474.6" r="3.95"/><circle cx="460.0" cy="474.6" r="3.95"/><circle cx="454.4" cy="478.4" r="3.95"/><circle cx="462.2" cy="479.1" r="3.95"/><circle cx="451.1" cy="483.2" r="3.95"/><circle cx="456.6" cy="483.3" r="3.95"/><circle cx="460.7" cy="482.8" r="3.95"/><circle cx="453.7" cy="487.8" r="3.95"/><circle cx="458.9" cy="486.4" r="3.95"/><circle cx="462.3" cy="487.8" r="3.95"/><circle cx="447.5" cy="490.2" r="3.95"/><circle cx="452.0" cy="489.7" r="3.95"/><circle cx="456.9" cy="489.8" r="3.95"/><circle cx="460.6" cy="489.0" r="3.95"/><circle cx="465.6" cy="490.0" r="3.95"/><circle cx="449.8" cy="494.2" r="3.95"/><circle cx="453.7" cy="493.7" r="3.95"/><circle cx="458.3" cy="493.3" r="3.95"/><circle cx="463.4" cy="494.3" r="3.95"/><circle cx="466.9" cy="493.4" r="3.95"/><circle cx="447.7" cy="497.5" r="3.95"/><circle cx="451.6" cy="498.8" r="3.95"/><circle cx="455.9" cy="498.7" r="3.95"/><circle cx="460.7" cy="498.8" r="3.95"/><circle cx="465.7" cy="497.9" r="3.95"/><circle cx="443.4" cy="501.0" r="3.95"/><circle cx="447.4" cy="500.9" r="3.95"/><circle cx="452.5" cy="501.9" r="3.95"/><circle cx="456.6" cy="501.5" r="3.95"/><circle cx="461.0" cy="501.4" r="3.95"/><circle cx="465.9" cy="501.5" r="3.95"/><circle cx="470.0" cy="501.5" r="3.95"/><circle cx="445.8" cy="506.4" r="3.95"/><circle cx="450.1" cy="506.4" r="3.95"/><circle cx="454.4" cy="505.7" r="3.95"/><circle cx="458.8" cy="505.2" r="3.95"/><circle cx="463.5" cy="506.1" r="3.95"/><circle cx="467.0" cy="505.7" r="3.95"/><circle cx="443.4" cy="509.9" r="3.95"/><circle cx="448.3" cy="509.5" r="3.95"/><circle cx="452.4" cy="509.8" r="3.95"/><circle cx="457.2" cy="509.3" r="3.95"/><circle cx="460.3" cy="510.5" r="3.95"/><circle cx="469.0" cy="510.1" r="3.95"/><circle cx="445.7" cy="514.2" r="3.95"/><circle cx="450.3" cy="514.2" r="3.95"/><circle cx="454.9" cy="513.7" r="3.95"/><circle cx="458.4" cy="514.6" r="3.95"/><circle cx="463.8" cy="514.0" r="3.95"/><circle cx="467.0" cy="514.0" r="3.95"/><circle cx="444.6" cy="516.5" r="3.95"/><circle cx="448.9" cy="516.2" r="3.95"/><circle cx="453.9" cy="517.3" r="3.95"/><circle cx="457.5" cy="517.1" r="3.95"/><circle cx="461.8" cy="516.0" r="3.95"/><circle cx="467.2" cy="516.8" r="3.95"/><circle cx="447.0" cy="520.4" r="3.95"/><circle cx="455.9" cy="521.3" r="3.95"/><circle cx="460.0" cy="520.5" r="3.95"/><circle cx="463.9" cy="521.3" r="3.95"/><circle cx="445.3" cy="524.6" r="3.95"/><circle cx="448.7" cy="524.9" r="3.95"/><circle cx="452.7" cy="525.4" r="3.95"/><circle cx="457.5" cy="524.7" r="3.95"/><circle cx="462.2" cy="525.2" r="3.95"/><circle cx="466.5" cy="525.7" r="3.95"/><circle cx="446.2" cy="529.7" r="3.95"/><circle cx="455.1" cy="529.7" r="3.95"/><circle cx="459.3" cy="528.4" r="3.95"/><circle cx="419.3" cy="529.0" r="3.95"/><circle cx="423.7" cy="530.0" r="3.95"/><circle cx="421.3" cy="534.4" r="3.95"/><circle cx="443.2" cy="533.2" r="3.95"/><circle cx="448.6" cy="532.9" r="3.95"/><circle cx="453.0" cy="533.1" r="3.95"/><circle cx="457.2" cy="532.6" r="3.95"/><circle cx="461.2" cy="533.2" r="3.95"/><circle cx="465.3" cy="532.2" r="3.95"/><circle cx="470.1" cy="531.9" r="3.95"/><circle cx="473.9" cy="532.6" r="3.95"/><circle cx="417.8" cy="539.2" r="3.95"/><circle cx="422.6" cy="538.5" r="3.95"/><circle cx="426.8" cy="539.1" r="3.95"/><circle cx="430.8" cy="539.3" r="3.95"/><circle cx="435.5" cy="538.8" r="3.95"/><circle cx="439.9" cy="538.9" r="3.95"/><circle cx="443.8" cy="539.4" r="3.95"/><circle cx="448.5" cy="539.2" r="3.95"/><circle cx="453.2" cy="538.8" r="3.95"/><circle cx="457.9" cy="538.4" r="3.95"/><circle cx="461.7" cy="539.0" r="3.95"/><circle cx="466.0" cy="538.5" r="3.95"/><circle cx="471.0" cy="538.3" r="3.95"/><circle cx="474.7" cy="538.6" r="3.95"/><circle cx="479.3" cy="539.4" r="3.95"/><circle cx="484.2" cy="538.3" r="3.95"/><circle cx="487.8" cy="538.7" r="3.95"/><circle cx="493.0" cy="537.9" r="3.95"/><circle cx="497.5" cy="538.7" r="3.95"/></g>
<path d="M171.6,474.6H215.0M171.6,521.2H215.0M193.3,474.6V521.2" stroke="#000" stroke-width="2.15" fill="none"/>
<path d="M303.6,497.6H347.0M303.6,533.3H347.0M325.3,497.6V533.3" stroke="#000" stroke-width="2.15" fill="none"/>
<path d="M435.6,477.6H479.0M435.6,533.5H479.0M457.3,477.6V533.5" stroke="#000" stroke-width="2.15" fill="none"/>
<path d="M193.5,165.1V140.5H457.5V165.1" stroke="#1a1a1a" stroke-width="2.2" fill="none"/>
<text x="325.5" y="121.39999999999998" text-anchor="middle" font-size="31.6" class="pv">0.8912</text>
<path d="M193.5,249.10000000000002V224.60000000000002H317.1V249.10000000000002" stroke="#1a1a1a" stroke-width="2.2" fill="none"/>
<text x="254.9000000000001" y="205.5" text-anchor="middle" font-size="31.6" class="pv">0.0764</text>
<path d="M333.4000000000001,249.10000000000002V224.60000000000002H457.5V249.10000000000002" stroke="#1a1a1a" stroke-width="2.2" fill="none"/>
<text x="395.4000000000001" y="205.5" text-anchor="middle" font-size="31.6" class="pv">0.2379</text>
<text transform="translate(41.8,295.1) rotate(-90)" text-anchor="middle" class="yt">C1q (OD<tspan class="sb" dy="7">450nm</tspan><tspan dy="-7">)</tspan></text>
</g>
<text x="588" y="663.7" class="pl">e.</text>
<g transform="translate(1200.0,631.4)">
<path d="M106.8,442.69999999999993H543.2" stroke="#F03A42" stroke-width="4.2" stroke-dasharray="8.2 12.6" stroke-linecap="round" fill="none"/>
<rect x="152.8" y="487.5" width="81" height="54.0" fill="#615EFF" fill-opacity="0.385" stroke="none"/>
<path d="M152.8,541.5V487.5H233.8V541.5" fill="none" stroke="#000" stroke-width="6.0" stroke-linejoin="miter"/>
<rect x="284.8" y="434.6" width="81" height="106.9" fill="#E1C382" fill-opacity="0.24" stroke="none"/>
<path d="M284.8,541.5V434.6H365.8V541.5" fill="none" stroke="#000" stroke-width="6.0" stroke-linejoin="miter"/>
<rect x="416.8" y="415.2" width="81" height="126.3" fill="#3CAA46" fill-opacity="0.3" stroke="none"/>
<path d="M416.8,541.5V415.2H497.8V541.5" fill="none" stroke="#000" stroke-width="6.0" stroke-linejoin="miter"/>
<path d="M106.0,46.7V541.5" stroke="#000" stroke-width="3.8" fill="none"/>
<path d="M88.3,541.5H547" stroke="#000" stroke-width="3.8" fill="none"/>
<text x="83.5" y="552.3" text-anchor="end" class="tk">0</text>
<path d="M96,479.9H106.0" stroke="#000" stroke-width="3.8"/>
<path d="M88.5,418.3H106.0" stroke="#000" stroke-width="3.8"/>
<text x="83.5" y="429.1" text-anchor="end" class="tk">1</text>
<path d="M96,356.7H106.0" stroke="#000" stroke-width="3.8"/>
<path d="M88.5,295.1H106.0" stroke="#000" stroke-width="3.8"/>
<text x="83.5" y="305.9" text-anchor="end" class="tk">2</text>
<path d="M96,233.5H106.0" stroke="#000" stroke-width="3.8"/>
<path d="M88.5,171.9H106.0" stroke="#000" stroke-width="3.8"/>
<text x="83.5" y="182.7" text-anchor="end" class="tk">3</text>
<path d="M96,110.2H106.0" stroke="#000" stroke-width="3.8"/>
<path d="M88.5,48.6H106.0" stroke="#000" stroke-width="3.8"/>
<text x="83.5" y="59.4" text-anchor="end" class="tk">4</text>
<path d="M193.3,541.5V559.5" stroke="#000" stroke-width="3.8"/>
<text x="193.3" y="592.5" text-anchor="middle" class="xl">AZ-N</text>
<path d="M325.3,541.5V559.5" stroke="#000" stroke-width="3.8"/>
<text x="325.3" y="592.5" text-anchor="middle" class="xl">SV-N</text>
<path d="M457.3,541.5V559.5" stroke="#000" stroke-width="3.8"/>
<text x="457.3" y="592.5" text-anchor="middle" class="xl">I</text>
<g fill="#6457FF" stroke="#4B3AFF" stroke-width="0.7"><circle cx="193.5" cy="299.2" r="3.95"/><circle cx="193.5" cy="350.7" r="3.95"/><circle cx="193.5" cy="368.3" r="3.95"/><circle cx="193.5" cy="379.1" r="3.95"/><circle cx="193.5" cy="397.3" r="3.95"/><circle cx="201.4" cy="412.6" r="3.95"/><circle cx="177.6" cy="420.0" r="3.95"/><circle cx="185.5" cy="417.9" r="3.95"/><circle cx="201.4" cy="421.0" r="3.95"/><circle cx="209.4" cy="420.6" r="3.95"/><circle cx="193.5" cy="425.3" r="3.95"/><circle cx="185.5" cy="427.4" r="3.95"/><circle cx="185.5" cy="448.6" r="3.95"/><circle cx="201.4" cy="449.7" r="3.95"/><circle cx="201.4" cy="460.2" r="3.95"/><circle cx="169.6" cy="467.2" r="3.95"/><circle cx="185.5" cy="468.1" r="3.95"/><circle cx="217.2" cy="470.8" r="3.95"/><circle cx="177.6" cy="471.3" r="3.95"/><circle cx="193.5" cy="473.0" r="3.95"/><circle cx="169.6" cy="477.2" r="3.95"/><circle cx="185.5" cy="477.2" r="3.95"/><circle cx="201.4" cy="475.1" r="3.95"/><circle cx="209.4" cy="476.1" r="3.95"/><circle cx="177.6" cy="480.4" r="3.95"/><circle cx="201.4" cy="484.0" r="3.95"/><circle cx="209.4" cy="482.5" r="3.95"/><circle cx="217.2" cy="485.3" r="3.95"/><circle cx="185.5" cy="485.7" r="3.95"/><circle cx="177.6" cy="489.9" r="3.95"/><circle cx="193.5" cy="492.0" r="3.95"/><circle cx="201.4" cy="493.7" r="3.95"/><circle cx="209.4" cy="493.1" r="3.95"/><circle cx="169.6" cy="496.3" r="3.95"/><circle cx="185.5" cy="495.8" r="3.95"/><circle cx="225.3" cy="495.2" r="3.95"/><circle cx="233.1" cy="500.5" r="3.95"/><circle cx="193.5" cy="501.6" r="3.95"/><circle cx="201.4" cy="503.7" r="3.95"/><circle cx="225.3" cy="504.3" r="3.95"/><circle cx="217.2" cy="505.8" r="3.95"/><circle cx="209.4" cy="505.8" r="3.95"/><circle cx="177.6" cy="506.4" r="3.95"/><circle cx="185.5" cy="505.8" r="3.95"/><circle cx="161.7" cy="506.4" r="3.95"/><circle cx="153.7" cy="509.4" r="3.95"/><circle cx="169.6" cy="509.4" r="3.95"/><circle cx="233.1" cy="510.5" r="3.95"/><circle cx="193.5" cy="507.9" r="3.95"/><circle cx="201.4" cy="512.2" r="3.95"/><circle cx="185.5" cy="516.0" r="3.95"/><circle cx="193.5" cy="520.2" r="3.95"/><circle cx="201.4" cy="521.7" r="3.95"/><circle cx="185.5" cy="528.1" r="3.95"/></g>
<g fill="#F18425" stroke="#EA720E" stroke-width="0.7"><circle cx="324.8" cy="207.9" r="3.95"/><circle cx="324.8" cy="273.9" r="3.95"/><circle cx="325.1" cy="307.2" r="3.95"/><circle cx="330.8" cy="326.7" r="3.95"/><circle cx="319.6" cy="330.6" r="3.95"/><circle cx="330.8" cy="336.3" r="3.95"/><circle cx="319.6" cy="340.5" r="3.95"/><circle cx="313.9" cy="350.5" r="3.95"/><circle cx="325.1" cy="352.6" r="3.95"/><circle cx="336.6" cy="354.3" r="3.95"/><circle cx="325.1" cy="365.9" r="3.95"/><circle cx="325.1" cy="374.4" r="3.95"/><circle cx="296.9" cy="385.0" r="3.95"/><circle cx="353.5" cy="388.8" r="3.95"/><circle cx="330.8" cy="389.9" r="3.95"/><circle cx="342.3" cy="390.3" r="3.95"/><circle cx="308.2" cy="393.9" r="3.95"/><circle cx="319.6" cy="395.6" r="3.95"/><circle cx="330.8" cy="399.4" r="3.95"/><circle cx="342.3" cy="400.3" r="3.95"/><circle cx="296.9" cy="404.5" r="3.95"/><circle cx="308.2" cy="403.7" r="3.95"/><circle cx="319.6" cy="406.8" r="3.95"/><circle cx="330.8" cy="408.3" r="3.95"/><circle cx="308.2" cy="412.1" r="3.95"/><circle cx="319.6" cy="417.9" r="3.95"/><circle cx="330.8" cy="417.2" r="3.95"/><circle cx="342.3" cy="416.4" r="3.95"/><circle cx="308.2" cy="422.5" r="3.95"/><circle cx="342.3" cy="425.3" r="3.95"/><circle cx="308.2" cy="431.0" r="3.95"/><circle cx="330.8" cy="430.6" r="3.95"/><circle cx="342.3" cy="434.4" r="3.95"/><circle cx="319.6" cy="437.6" r="3.95"/><circle cx="330.8" cy="442.2" r="3.95"/><circle cx="353.5" cy="447.5" r="3.95"/><circle cx="296.9" cy="449.7" r="3.95"/><circle cx="364.9" cy="450.7" r="3.95"/><circle cx="319.6" cy="456.0" r="3.95"/><circle cx="330.8" cy="456.0" r="3.95"/><circle cx="308.2" cy="457.5" r="3.95"/><circle cx="296.9" cy="458.8" r="3.95"/><circle cx="285.7" cy="461.9" r="3.95"/><circle cx="364.9" cy="461.9" r="3.95"/><circle cx="342.3" cy="464.1" r="3.95"/><circle cx="330.8" cy="464.1" r="3.95"/><circle cx="319.6" cy="466.6" r="3.95"/><circle cx="296.9" cy="469.4" r="3.95"/><circle cx="308.2" cy="469.4" r="3.95"/><circle cx="353.5" cy="473.0" r="3.95"/><circle cx="342.3" cy="473.6" r="3.95"/><circle cx="330.8" cy="475.5" r="3.95"/><circle cx="296.9" cy="478.3" r="3.95"/><circle cx="308.2" cy="480.0" r="3.95"/><circle cx="319.6" cy="481.4" r="3.95"/><circle cx="342.3" cy="483.1" r="3.95"/><circle cx="353.5" cy="486.1" r="3.95"/><circle cx="330.8" cy="486.7" r="3.95"/><circle cx="296.9" cy="488.4" r="3.95"/><circle cx="319.6" cy="492.0" r="3.95"/><circle cx="342.3" cy="493.5" r="3.95"/><circle cx="308.2" cy="498.0" r="3.95"/><circle cx="330.8" cy="498.0" r="3.95"/></g>
<g fill="#35911F" stroke="#2A8216" stroke-width="0.7"><circle cx="448.9" cy="214.0" r="3.95"/><circle cx="454.2" cy="217.7" r="3.95"/><circle cx="459.6" cy="216.9" r="3.95"/><circle cx="465.1" cy="221.3" r="3.95"/><circle cx="448.9" cy="223.8" r="3.95"/><circle cx="454.2" cy="227.2" r="3.95"/><circle cx="459.6" cy="229.4" r="3.95"/><circle cx="448.9" cy="234.6" r="3.95"/><circle cx="454.2" cy="237.5" r="3.95"/><circle cx="459.6" cy="241.2" r="3.95"/><circle cx="465.1" cy="239.7" r="3.95"/><circle cx="470.4" cy="245.6" r="3.95"/><circle cx="448.9" cy="243.4" r="3.95"/><circle cx="443.5" cy="248.8" r="3.95"/><circle cx="465.1" cy="249.2" r="3.95"/><circle cx="459.6" cy="252.6" r="3.95"/><circle cx="454.2" cy="259.9" r="3.95"/><circle cx="456.7" cy="271.2" r="3.95"/><circle cx="456.7" cy="285.2" r="3.95"/><circle cx="448.9" cy="297.4" r="3.95"/><circle cx="459.6" cy="298.1" r="3.95"/><circle cx="465.1" cy="296.6" r="3.95"/><circle cx="454.2" cy="305.4" r="3.95"/><circle cx="438.1" cy="310.4" r="3.95"/><circle cx="475.8" cy="307.9" r="3.95"/><circle cx="470.4" cy="316.0" r="3.95"/><circle cx="475.8" cy="317.2" r="3.95"/><circle cx="454.2" cy="315.7" r="3.95"/><circle cx="448.9" cy="318.6" r="3.95"/><circle cx="443.5" cy="320.7" r="3.95"/><circle cx="438.1" cy="318.9" r="3.95"/><circle cx="459.6" cy="323.3" r="3.95"/><circle cx="465.1" cy="323.8" r="3.95"/><circle cx="454.2" cy="329.7" r="3.95"/><circle cx="486.1" cy="329.9" r="3.95"/><circle cx="427.4" cy="335.1" r="3.95"/><circle cx="432.8" cy="336.3" r="3.95"/><circle cx="438.1" cy="331.4" r="3.95"/><circle cx="443.5" cy="333.3" r="3.95"/><circle cx="448.9" cy="336.6" r="3.95"/><circle cx="454.2" cy="340.2" r="3.95"/><circle cx="459.6" cy="336.6" r="3.95"/><circle cx="465.1" cy="332.4" r="3.95"/><circle cx="470.4" cy="332.9" r="3.95"/><circle cx="475.8" cy="333.3" r="3.95"/><circle cx="480.9" cy="334.3" r="3.95"/><circle cx="486.1" cy="338.0" r="3.95"/><circle cx="443.5" cy="345.4" r="3.95"/><circle cx="470.4" cy="341.7" r="3.95"/><circle cx="475.8" cy="343.2" r="3.95"/><circle cx="480.9" cy="344.6" r="3.95"/><circle cx="432.8" cy="350.2" r="3.95"/><circle cx="438.1" cy="350.5" r="3.95"/><circle cx="454.2" cy="351.2" r="3.95"/><circle cx="470.4" cy="351.2" r="3.95"/><circle cx="475.8" cy="351.2" r="3.95"/><circle cx="443.5" cy="357.8" r="3.95"/><circle cx="448.9" cy="356.8" r="3.95"/><circle cx="459.6" cy="357.1" r="3.95"/><circle cx="465.1" cy="357.8" r="3.95"/><circle cx="470.4" cy="359.3" r="3.95"/><circle cx="480.9" cy="357.8" r="3.95"/><circle cx="438.1" cy="363.7" r="3.95"/><circle cx="448.9" cy="365.2" r="3.95"/><circle cx="475.8" cy="363.7" r="3.95"/><circle cx="459.6" cy="367.4" r="3.95"/><circle cx="432.8" cy="372.3" r="3.95"/><circle cx="438.1" cy="372.3" r="3.95"/><circle cx="443.5" cy="371.5" r="3.95"/><circle cx="454.2" cy="373.7" r="3.95"/><circle cx="470.4" cy="370.8" r="3.95"/><circle cx="475.8" cy="371.5" r="3.95"/><circle cx="480.9" cy="371.5" r="3.95"/><circle cx="465.1" cy="378.9" r="3.95"/><circle cx="459.6" cy="377.4" r="3.95"/><circle cx="438.1" cy="386.2" r="3.95"/><circle cx="443.5" cy="388.4" r="3.95"/><circle cx="454.2" cy="392.1" r="3.95"/><circle cx="459.6" cy="387.7" r="3.95"/><circle cx="465.1" cy="388.4" r="3.95"/><circle cx="470.4" cy="394.3" r="3.95"/><circle cx="475.8" cy="394.3" r="3.95"/><circle cx="438.1" cy="396.5" r="3.95"/><circle cx="443.5" cy="398.7" r="3.95"/><circle cx="448.9" cy="400.2" r="3.95"/><circle cx="454.2" cy="402.4" r="3.95"/><circle cx="427.4" cy="407.5" r="3.95"/><circle cx="432.8" cy="406.0" r="3.95"/><circle cx="438.1" cy="406.0" r="3.95"/><circle cx="448.9" cy="408.2" r="3.95"/><circle cx="459.6" cy="400.2" r="3.95"/><circle cx="465.1" cy="398.0" r="3.95"/><circle cx="470.4" cy="403.1" r="3.95"/><circle cx="475.8" cy="403.8" r="3.95"/><circle cx="465.1" cy="406.8" r="3.95"/><circle cx="459.6" cy="409.7" r="3.95"/><circle cx="470.4" cy="411.2" r="3.95"/><circle cx="475.8" cy="411.2" r="3.95"/><circle cx="480.9" cy="410.4" r="3.95"/><circle cx="486.1" cy="409.0" r="3.95"/><circle cx="443.5" cy="415.6" r="3.95"/><circle cx="465.1" cy="416.3" r="3.95"/><circle cx="459.6" cy="424.4" r="3.95"/><circle cx="454.2" cy="427.3" r="3.95"/><circle cx="470.4" cy="424.1" r="3.95"/><circle cx="475.8" cy="427.3" r="3.95"/><circle cx="480.9" cy="426.6" r="3.95"/><circle cx="486.1" cy="429.5" r="3.95"/><circle cx="491.5" cy="432.4" r="3.95"/><circle cx="422.2" cy="431.7" r="3.95"/><circle cx="427.4" cy="431.7" r="3.95"/><circle cx="438.1" cy="433.2" r="3.95"/><circle cx="443.5" cy="432.4" r="3.95"/><circle cx="448.9" cy="431.7" r="3.95"/><circle cx="465.1" cy="434.6" r="3.95"/><circle cx="480.9" cy="435.4" r="3.95"/><circle cx="496.8" cy="439.0" r="3.95"/><circle cx="422.2" cy="439.8" r="3.95"/><circle cx="427.4" cy="443.4" r="3.95"/><circle cx="432.8" cy="444.9" r="3.95"/><circle cx="438.1" cy="443.4" r="3.95"/><circle cx="443.5" cy="440.5" r="3.95"/><circle cx="448.9" cy="439.0" r="3.95"/><circle cx="454.2" cy="437.6" r="3.95"/><circle cx="459.6" cy="439.0" r="3.95"/><circle cx="465.1" cy="442.0" r="3.95"/><circle cx="470.4" cy="442.0" r="3.95"/><circle cx="475.8" cy="440.5" r="3.95"/><circle cx="480.9" cy="442.0" r="3.95"/><circle cx="486.1" cy="439.0" r="3.95"/><circle cx="491.5" cy="442.0" r="3.95"/><circle cx="422.2" cy="448.6" r="3.95"/><circle cx="427.4" cy="447.8" r="3.95"/><circle cx="438.1" cy="448.6" r="3.95"/><circle cx="443.5" cy="448.6" r="3.95"/><circle cx="465.1" cy="448.6" r="3.95"/><circle cx="470.4" cy="449.3" r="3.95"/><circle cx="480.9" cy="447.8" r="3.95"/><circle cx="491.5" cy="453.0" r="3.95"/><circle cx="486.1" cy="450.8" r="3.95"/><circle cx="432.8" cy="453.7" r="3.95"/><circle cx="438.1" cy="454.5" r="3.95"/><circle cx="443.5" cy="453.0" r="3.95"/><circle cx="448.9" cy="452.3" r="3.95"/><circle cx="459.6" cy="452.3" r="3.95"/><circle cx="465.1" cy="453.7" r="3.95"/><circle cx="470.4" cy="454.5" r="3.95"/><circle cx="475.8" cy="455.2" r="3.95"/><circle cx="480.9" cy="455.2" r="3.95"/><circle cx="422.2" cy="460.3" r="3.95"/><circle cx="427.4" cy="461.1" r="3.95"/><circle cx="491.5" cy="461.1" r="3.95"/><circle cx="486.1" cy="462.5" r="3.95"/><circle cx="480.9" cy="464.7" r="3.95"/><circle cx="432.8" cy="466.2" r="3.95"/><circle cx="438.1" cy="466.9" r="3.95"/><circle cx="443.5" cy="468.4" r="3.95"/><circle cx="448.9" cy="465.5" r="3.95"/><circle cx="459.6" cy="468.4" r="3.95"/><circle cx="465.1" cy="465.5" r="3.95"/><circle cx="470.4" cy="464.0" r="3.95"/><circle cx="475.8" cy="468.4" r="3.95"/><circle cx="432.8" cy="476.5" r="3.95"/><circle cx="443.5" cy="476.5" r="3.95"/><circle cx="448.9" cy="477.2" r="3.95"/><circle cx="454.2" cy="476.5" r="3.95"/><circle cx="459.6" cy="477.9" r="3.95"/><circle cx="465.1" cy="475.7" r="3.95"/><circle cx="470.4" cy="476.5" r="3.95"/><circle cx="475.8" cy="477.9" r="3.95"/><circle cx="480.9" cy="477.2" r="3.95"/><circle cx="486.1" cy="474.3" r="3.95"/><circle cx="427.4" cy="485.3" r="3.95"/><circle cx="432.8" cy="485.3" r="3.95"/><circle cx="448.9" cy="485.3" r="3.95"/><circle cx="454.2" cy="486.0" r="3.95"/><circle cx="465.1" cy="483.8" r="3.95"/><circle cx="470.4" cy="484.5" r="3.95"/><circle cx="475.8" cy="486.0" r="3.95"/><circle cx="480.9" cy="487.5" r="3.95"/><circle cx="486.1" cy="487.5" r="3.95"/><circle cx="443.5" cy="491.1" r="3.95"/><circle cx="438.1" cy="496.3" r="3.95"/><circle cx="448.9" cy="494.8" r="3.95"/><circle cx="454.2" cy="497.0" r="3.95"/><circle cx="459.6" cy="491.9" r="3.95"/><circle cx="465.1" cy="493.3" r="3.95"/><circle cx="470.4" cy="492.6" r="3.95"/><circle cx="475.8" cy="497.0" r="3.95"/><circle cx="470.4" cy="499.9" r="3.95"/><circle cx="448.9" cy="502.9" r="3.95"/><circle cx="443.5" cy="506.6" r="3.95"/><circle cx="459.6" cy="505.1" r="3.95"/><circle cx="465.1" cy="504.3" r="3.95"/><circle cx="448.9" cy="515.1" r="3.95"/><circle cx="459.6" cy="519.0" r="3.95"/><circle cx="465.1" cy="518.6" r="3.95"/><circle cx="448.9" cy="524.6" r="3.95"/></g>
<path d="M171.6,449.2H215.0M171.6,504.7H215.0M193.3,449.2V504.7" stroke="#000" stroke-width="2.15" fill="none"/>
<path d="M303.6,390.5H347.0M303.6,469.1H347.0M325.3,390.5V469.1" stroke="#000" stroke-width="2.15" fill="none"/>
<path d="M435.6,345.1H479.0M435.6,460.3H479.0M457.3,345.1V460.3" stroke="#000" stroke-width="2.15" fill="none"/>
<path d="M193.4000000000001,98.7V74.5H457.0V98.7" stroke="#1a1a1a" stroke-width="2.2" fill="none"/>
<text x="323.9000000000001" y="55.0" text-anchor="middle" font-size="31.6" class="pv">&lt;0.0001</text>
<path d="M193.4000000000001,183.10000000000008V158.80000000000007H317.4000000000001V183.10000000000008" stroke="#1a1a1a" stroke-width="2.2" fill="none"/>
<text x="253.5999999999999" y="139.30000000000007" text-anchor="middle" font-size="31.6" class="pv">&lt;0.0001</text>
<path d="M333.29999999999995,183.10000000000008V158.80000000000007H457.0V183.10000000000008" stroke="#1a1a1a" stroke-width="2.2" fill="none"/>
<text x="395.0" y="139.30000000000007" text-anchor="middle" font-size="31.6" class="pv">0.2607</text>
<text transform="translate(41.8,295.1) rotate(-90)" text-anchor="middle" class="yt">IgM (OD<tspan class="sb" dy="7">450nm</tspan><tspan dy="-7">)</tspan></text>
</g>
<text x="1197.4" y="663.8" class="pl">f.</text>
</svg>
</body></html>
